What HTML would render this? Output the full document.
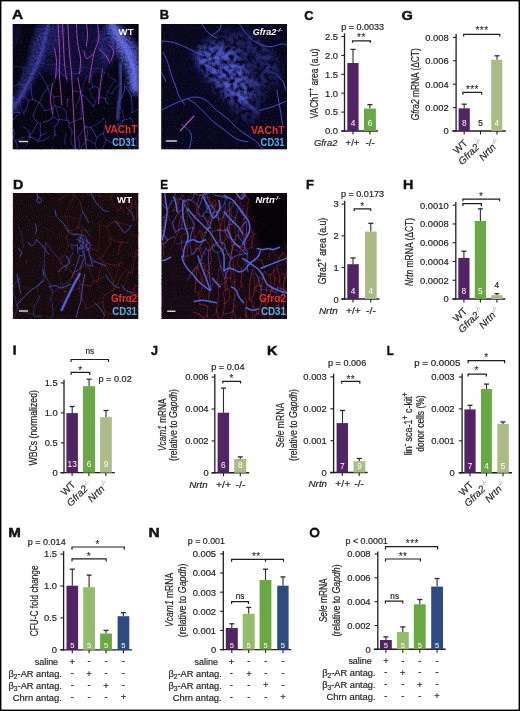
<!DOCTYPE html>
<html><head><meta charset="utf-8"><style>html,body{margin:0;padding:0;background:#fff;width:520px;height:711px;overflow:hidden;}body{font-family:"Liberation Sans", sans-serif;}</style></head><body>
<svg width="520" height="711" viewBox="0 0 520 711" style="position:absolute;left:0;top:0;will-change:transform" font-family='"Liberation Sans", sans-serif' fill="#1e1e1e">
<rect x="0" y="0" width="520" height="711" fill="#fff"/>
<defs><filter id="b05" x="-20%" y="-20%" width="140%" height="140%"><feGaussianBlur stdDeviation="0.45"/></filter><filter id="b08" x="-20%" y="-20%" width="140%" height="140%"><feGaussianBlur stdDeviation="0.8"/></filter><filter id="b15" x="-20%" y="-20%" width="140%" height="140%"><feGaussianBlur stdDeviation="1.5"/></filter><filter id="b3" x="-50%" y="-50%" width="200%" height="200%"><feGaussianBlur stdDeviation="3"/></filter><filter id="nzB" x="0" y="0" width="100%" height="100%" color-interpolation-filters="sRGB"><feTurbulence type="fractalNoise" baseFrequency="0.9" numOctaves="2" seed="7"/><feColorMatrix type="matrix" values="0 0 0 0 0.15  0 0 0 0 0.15  0 0 0 0 0.45  2.4 0 0 0 -1.38"/></filter><filter id="nzR" x="0" y="0" width="100%" height="100%" color-interpolation-filters="sRGB"><feTurbulence type="fractalNoise" baseFrequency="0.9" numOctaves="2" seed="9"/><feColorMatrix type="matrix" values="0 0 0 0 0.3  0 0 0 0 0.08  0 0 0 0 0.14  3 0 0 0 -1.6"/></filter><filter id="tex" x="-20%" y="-20%" width="140%" height="140%" color-interpolation-filters="sRGB"><feGaussianBlur in="SourceGraphic" stdDeviation="2.6" result="bl"/><feTurbulence type="fractalNoise" baseFrequency="0.45" numOctaves="2" seed="4" result="t"/><feColorMatrix in="t" type="matrix" values="0 0 0 0 0  0 0 0 0 0  0 0 0 0 0  1.4 0 0 0 0.05" result="ta"/><feComposite in="bl" in2="ta" operator="in"/></filter><filter id="mott" x="-30%" y="-30%" width="160%" height="160%" color-interpolation-filters="sRGB"><feGaussianBlur in="SourceGraphic" stdDeviation="3.8" result="bl"/><feTurbulence type="fractalNoise" baseFrequency="0.22" numOctaves="3" seed="3" result="t"/><feColorMatrix in="t" type="matrix" values="0 0 0 0 0  0 0 0 0 0  0 0 0 0 0  3.2 0 0 0 -1.0" result="ta"/><feComposite in="bl" in2="ta" operator="in"/></filter></defs>
<clipPath id="cA"><rect x="12.5" y="23.9" width="126.3" height="125.7"/></clipPath>
<g clip-path="url(#cA)"><rect x="12.5" y="23.9" width="126.3" height="125.7" fill="#05040f"/>
<g transform="translate(12.5,23.9)"><rect width="127" height="127" filter="url(#nzB)"/><g filter="url(#tex)" opacity="0.9"><ellipse cx="62" cy="26" rx="44" ry="30" fill="#2a2a90" opacity="0.45"/><path d="M25,0 L41,0 L37,16 L33,32 L26,48 L18,64 L11,76 L0,92 L0,76 L5,64 L11,50 L16,34 L21,16Z" fill="#4444bc" opacity="0.7"/><ellipse cx="3" cy="10" rx="6" ry="11" fill="#2a2a80" opacity="0.35"/><path d="M41,0 L52,0 L50,12 L44,26 L37,30Z" fill="#2c2c80"/><path d="M92,0 L107,0 L116,12 L124,22 L127,28 L127,72 L121,70 L116,64 L114,48 L108,35 L101,22 L96,12Z" fill="#5e68e6"/><path d="M84,8 L92,8 L98,30 L96,40 L88,36Z" fill="#30309a"/></g><g fill="none" stroke="#6464e8" stroke-width="2.4" stroke-linecap="round" stroke-linejoin="round" opacity="0.55" filter="url(#b08)"><path d="M36,0 C35.33,2.67 33.33,10.67 32,16 C30.67,21.33 29.83,26.67 28,32 C26.17,37.33 23.5,42.67 21,48 C18.5,53.33 15.5,59.33 13,64 C10.5,68.67 8.17,72.33 6,76 C3.83,79.67 1,84.33 0,86"/></g><g fill="none" stroke="#7078f4" stroke-width="6" stroke-linecap="round" stroke-linejoin="round" opacity="0.7" filter="url(#b15)"><path d="M99,0 C100.33,2.33 104.33,9.33 107,14 C109.67,18.67 112.67,23 115,28 C117.33,33 119.67,38 121,44 C122.33,50 122.67,60.67 123,64"/></g><g fill="none" stroke="#5a64e0" stroke-width="2.6" stroke-linecap="round" stroke-linejoin="round" opacity="0.75" filter="url(#b08)"><path d="M108,40 C108.08,43.67 108.75,55.33 108.5,62 C108.25,68.67 107.08,74.5 106.5,80 C105.92,85.5 105.25,92.5 105,95"/></g><g fill="none" stroke="#4848cc" stroke-width="0.8" stroke-linecap="round"><path d="M103.28,119.91 Q97.68,119.51 93.68,115.57" opacity="0.89"/><path d="M84.68,130.01 Q91.61,124.31 93.68,115.57" opacity="0.83"/><path d="M84.68,130.01 Q84.58,124.86 82.59,120.12" opacity="0.59"/><path d="M90.78,109.5 Q91.14,113.06 93.68,115.57" opacity="0.61"/><path d="M90.78,109.5 Q86.57,110.39 83.97,113.83" opacity="0.8"/><path d="M83.97,113.83 Q83.67,117.06 82.59,120.12" opacity="0.61"/><path d="M1.96,21.72 Q1.2,18.73 4.28,18.72" opacity="0.24"/><path d="M-4.63,42.61 Q-2.33,31.85 1.96,21.72" opacity="0.25"/><path d="M0.74,114.31 Q1.74,115.83 3.01,117.13" opacity="0.72"/><path d="M3.01,117.13 Q5.24,121.28 5.12,126" opacity="0.89"/><path d="M8.17,128.08 Q8.13,124.87 5.12,126" opacity="0.85"/><path d="M8.17,128.08 Q15.07,121.92 17.57,113.01" opacity="0.52"/><path d="M17.63,113.08 Q16.23,114.17 17.57,113.01" opacity="0.76"/><path d="M3.01,117.13 Q9.47,112.42 17.45,112.7" opacity="0.54"/><path d="M17.57,113.01 Q19.3,112.17 17.45,112.7" opacity="0.57"/><path d="M82.59,120.12 Q79.11,116.4 74.08,115.64" opacity="0.77"/><path d="M74.08,115.64 Q71.29,121.42 66.71,125.91" opacity="0.67"/><path d="M98.38,14.71 Q89.16,14.95 80.19,17.09" opacity="0.29"/><path d="M68.88,42.07 Q76.5,45.73 84.88,44.68" opacity="0.31"/><path d="M86.1,43.73 Q84.85,43.39 84.88,44.68" opacity="0.53"/><path d="M90.78,109.5 Q93.18,103.36 93.16,96.77" opacity="0.68"/><path d="M83.97,113.83 Q82.05,108.17 78.27,103.55" opacity="0.89"/><path d="M91.48,94.61 Q90.78,96.56 91.29,94.55" opacity="0.69"/><path d="M91.29,94.55 Q85.89,100.65 78.27,103.55" opacity="0.58"/><path d="M74.08,115.64 Q76.75,109.18 73.58,102.96" opacity="0.75"/><path d="M78.27,103.55 Q75.87,103.65 73.58,102.96" opacity="0.77"/><path d="M40.18,124.64 Q40.77,123.63 39.67,123.23" opacity="0.88"/><path d="M115.7,130.5 Q118.79,124.76 124.64,121.86" opacity="0.63"/><path d="M103.28,119.91 Q103.58,118.85 104.05,117.85" opacity="0.59"/><path d="M104.05,117.85 Q105.35,109.14 105.36,100.32" opacity="0.53"/><path d="M100.53,17.38 Q96.22,32.86 91.86,48.32" opacity="0.21"/><path d="M92.13,48.6 Q90.91,49.51 91.86,48.32" opacity="0.42"/><path d="M103.13,56.47 Q97.38,61.02 95.43,68.08" opacity="0.58"/><path d="M103.13,56.47 Q96.87,54.69 94.21,48.74" opacity="0.59"/><path d="M92.13,48.6 Q88.72,53.91 89.55,60.18" opacity="0.46"/><path d="M72.85,102.29 Q71.84,104.12 73.58,102.96" opacity="0.67"/><path d="M131.94,65.5 Q129.07,65.51 131.85,64.82" opacity="0.82"/><path d="M0.74,114.31 Q3.24,110.45 1.21,106.32" opacity="0.74"/><path d="M17.45,112.7 Q16.84,112.26 17.35,111.72" opacity="0.67"/><path d="M17.35,111.72 Q16.56,105.56 10.93,102.95" opacity="0.88"/><path d="M-4.17,89.69 Q-0.95,92.65 -0.32,96.98" opacity="0.78"/><path d="M-4.17,89.69 Q-7.13,90.7 -5.32,88.14" opacity="0.81"/><path d="M1.21,106.32 Q1.06,104.19 -0.87,103.27" opacity="0.59"/><path d="M17.63,113.08 Q21.77,114.29 25.38,116.66" opacity="0.84"/><path d="M17.35,111.72 Q22.16,105.88 24.98,98.87" opacity="0.78"/><path d="M28.4,99.09 Q26.56,101.04 24.98,98.87" opacity="0.53"/><path d="M28.4,99.09 Q26.85,105.37 28.22,111.7" opacity="0.68"/><path d="M28.22,111.7 Q27.85,114.78 25.38,116.66" opacity="0.83"/><path d="M25.38,116.66 Q26.3,116.83 26.19,117.76" opacity="0.85"/><path d="M68.88,42.07 Q70.47,44.95 68.18,47.3" opacity="0.38"/><path d="M84.88,44.68 Q79.68,46.08 78.84,51.4" opacity="0.37"/><path d="M73.93,52.98 Q76.12,51.36 78.84,51.4" opacity="0.38"/><path d="M99.23,69.86 Q102.12,62.96 108.56,59.16" opacity="0.62"/><path d="M105.6,78.79 Q111.68,72.08 112.45,63.05" opacity="0.87"/><path d="M112.45,63.05 Q110.64,61.7 112.1,59.99" opacity="0.77"/><path d="M103.13,56.47 Q105.25,59.01 108.56,59.16" opacity="0.23"/><path d="M95.43,68.08 Q97.24,69.16 99.23,69.86" opacity="0.55"/><path d="M96.4,80.42 Q92.56,78.85 92.91,74.72" opacity="0.89"/><path d="M94.68,68.27 Q94.65,71.73 92.91,74.72" opacity="0.53"/><path d="M112.45,63.05 Q117.08,66.66 118.57,72.34" opacity="0.7"/><path d="M118.57,72.34 Q122.63,69.73 127.01,71.75" opacity="0.56"/><path d="M105.6,78.79 Q111.12,86.11 111.58,95.27" opacity="0.52"/><path d="M119.58,88.78 Q120.31,80.48 118.57,72.34" opacity="0.79"/><path d="M117.65,93.78 Q115.23,97.02 111.58,95.27" opacity="0.67"/><path d="M105.36,100.32 Q109.66,100.77 110.53,96.53" opacity="0.89"/><path d="M110.53,96.53 Q113.18,97.69 111.58,95.27" opacity="0.52"/><path d="M124.64,121.86 Q124.81,118.07 123.23,114.62" opacity="0.81"/><path d="M125.89,110.13 Q124.16,112.14 123.23,114.62" opacity="0.69"/><path d="M68.95,95.08 Q69.19,94.34 68.8,95.01" opacity="0.72"/><path d="M80.71,82.6 Q76.46,75.74 69.83,71.13" opacity="0.73"/><path d="M68.8,95.01 Q67.72,83 69.83,71.13" opacity="0.63"/><path d="M68.18,47.3 Q65.57,47.46 64.53,49.86" opacity="0.47"/><path d="M70.17,66.38 Q70.15,59.14 73.93,52.98" opacity="0.51"/><path d="M70.17,66.38 Q69.56,67.61 68.33,68.23" opacity="0.72"/><path d="M68.33,68.23 Q68.23,68.75 68.22,68.22" opacity="0.59"/><path d="M50.87,21.01 Q45.53,29.21 45.8,38.99" opacity="0.25"/><path d="M28.17,39.26 Q36.05,42.29 44.23,40.24" opacity="0.36"/><path d="M53.27,16.62 Q53.35,19.51 50.87,21.01" opacity="0.29"/><path d="M45.8,38.99 Q51.01,40.57 56.03,42.68" opacity="0.42"/><path d="M64.53,49.86 Q60.69,49.08 56.93,50.19" opacity="0.54"/><path d="M66.7,125.9 Q68.29,119.38 65.5,113.28" opacity="0.75"/><path d="M66.7,125.9 Q61.83,125.14 59.36,120.86" opacity="0.71"/><path d="M59.36,120.86 Q56.81,114.83 59.51,108.86" opacity="0.57"/><path d="M66.71,125.91 Q64.31,127.39 66.7,125.9" opacity="0.65"/><path d="M72.85,102.29 Q69.75,108.17 65.5,113.28" opacity="0.68"/><path d="M-4.63,42.61 Q3.61,41.81 11.67,43.64" opacity="0.45"/><path d="M21.33,17.6 Q24.89,27.91 24.99,38.82" opacity="0.23"/><path d="M11.67,43.64 Q17.74,39.58 24.99,38.82" opacity="0.32"/><path d="M28.17,39.26 Q26.56,37.86 25.55,39.74" opacity="0.35"/><path d="M24.99,38.82 Q24.62,39.67 25.55,39.74" opacity="0.43"/><path d="M26.19,117.76 Q32.35,116.63 37.22,112.71" opacity="0.73"/><path d="M28.22,111.7 Q31.19,110.28 34.18,108.89" opacity="0.65"/><path d="M127.01,71.75 Q131.64,73.89 131.04,78.95" opacity="0.88"/><path d="M119.58,88.78 Q124.25,86.47 128.15,83.01" opacity="0.59"/><path d="M80.45,62.82 Q78.69,64.14 77.04,65.59" opacity="0.88"/><path d="M80.45,62.82 Q83.84,61.56 86.11,64.37" opacity="0.74"/><path d="M77.04,65.59 Q78.22,72.37 83.47,76.82" opacity="0.5"/><path d="M86.11,64.37 Q86,69.23 85.61,74.08" opacity="0.68"/><path d="M78.84,51.4 Q77.58,57.4 80.45,62.82" opacity="0.63"/><path d="M81.15,82.53 Q82.66,79.82 83.47,76.82" opacity="0.83"/><path d="M69.83,71.13 Q66.97,70.77 68.33,68.23" opacity="0.82"/><path d="M92.91,74.72 Q89.44,72.32 85.61,74.08" opacity="0.68"/><path d="M119.35,95.5 Q119.29,99.28 122.37,101.47" opacity="0.66"/><path d="M117.65,93.78 Q117.74,95.4 119.35,95.5" opacity="0.66"/><path d="M114.9,116.4 Q113.64,111.72 113.63,106.88" opacity="0.55"/><path d="M114.9,116.4 Q114.72,119.71 117.59,118.05" opacity="0.62"/><path d="M113.63,106.88 Q118.59,110.18 121.07,115.6" opacity="0.55"/><path d="M117.59,118.05 Q120.25,118.14 121.07,115.6" opacity="0.82"/><path d="M115.7,130.5 Q115.27,124.07 117.59,118.05" opacity="0.73"/><path d="M123.23,114.62 Q121.79,114.31 121.07,115.6" opacity="0.69"/><path d="M63.42,82.01 Q67.97,75.9 68.01,68.27" opacity="0.63"/><path d="M68.01,68.27 Q64.1,67.09 60.02,67.11" opacity="0.77"/><path d="M44.23,40.24 Q46.36,42.7 45.66,45.87" opacity="0.35"/><path d="M54.98,54.12 Q49.12,51.35 45.66,45.87" opacity="0.61"/><path d="M53.43,86.59 Q53.99,91.5 54.6,96.4" opacity="0.73"/><path d="M67.62,94.83 Q62.51,97.74 56.82,99.23" opacity="0.68"/><path d="M56.82,99.23 Q57.16,96.68 54.6,96.4" opacity="0.8"/><path d="M55.38,75.84 Q56.95,76.96 55.7,75.49" opacity="0.79"/><path d="M55.38,75.84 Q53.77,79.33 54.78,83.03" opacity="0.83"/><path d="M63.42,82.01 Q64.53,83.15 63.55,84.4" opacity="0.66"/><path d="M68.8,95.01 Q68.56,92.58 67.62,94.83" opacity="0.68"/><path d="M68.22,68.22 Q68.08,68.11 68.01,68.27" opacity="0.74"/><path d="M24.98,98.87 Q22,95.66 20.64,91.49" opacity="0.76"/><path d="M-0.32,96.98 Q3.34,92.46 8.09,89.11" opacity="0.76"/><path d="M11.9,90.55 Q12.18,89.65 11.25,89.5" opacity="0.56"/><path d="M-4.17,89.69 Q1.45,87.76 7.35,88.5" opacity="0.86"/><path d="M-5.32,88.14 Q-0.54,86.35 0.87,81.44" opacity="0.59"/><path d="M7.35,88.5 Q3.03,85.96 0.87,81.44" opacity="0.67"/><path d="M55.38,75.84 Q54.25,76.31 53.48,75.36" opacity="0.54"/><path d="M53.43,86.59 Q50.29,84.19 46.52,82.98" opacity="0.61"/><path d="M47.2,95.51 Q50.86,96.31 54.6,96.4" opacity="0.74"/><path d="M47.2,95.51 Q44.73,88.9 43.06,82.04" opacity="0.56"/><path d="M46.52,82.98 Q44.21,84.63 43.06,82.04" opacity="0.71"/><path d="M32.29,86.61 Q36.67,86.19 40.58,84.18" opacity="0.7"/><path d="M32.1,97.41 Q33.59,96.24 35.03,97.47" opacity="0.59"/><path d="M35.03,97.47 Q38.44,96.09 39.96,92.74" opacity="0.87"/><path d="M39.96,92.74 Q40.71,88.49 40.58,84.18" opacity="0.66"/><path d="M46.26,96 Q45.96,100.81 41.8,103.23" opacity="0.81"/><path d="M46.26,96 Q42.85,94.87 39.96,92.74" opacity="0.8"/><path d="M42.61,81.65 Q39.7,81.39 40.58,84.18" opacity="0.7"/><path d="M43.73,111.63 Q43.33,109.61 41.98,111.16" opacity="0.87"/><path d="M41.98,111.16 Q43.31,109.75 42.46,108.01" opacity="0.86"/><path d="M56.62,100.34 Q56.53,101.73 56.57,103.12" opacity="0.67"/><path d="M52.4,119.05 Q51.96,113.98 53.72,109.2" opacity="0.63"/><path d="M52.65,120.7 Q52.27,119.91 52.4,119.05" opacity="0.63"/><path d="M39.67,114.2 Q42.87,114.24 41.98,111.16" opacity="0.5"/><path d="M41.8,103.23 Q42.83,105.52 42.46,108.01" opacity="0.71"/><path d="M31.23,98.37 Q33.04,99.15 32.1,97.41" opacity="0.89"/><path d="M56.82,99.23 Q57.35,99.9 56.62,100.34" opacity="0.75"/><path d="M59.51,108.86 Q60.17,104.9 56.57,103.12" opacity="0.87"/><path d="M54.98,54.12 Q55.59,55.74 54.33,56.91" opacity="0.71"/><path d="M45.66,45.87 Q43.22,52.15 41.83,58.75" opacity="0.65"/><path d="M55,59.05 Q55.12,57.83 54.33,56.91" opacity="0.55"/><path d="M42.61,81.65 Q39.38,77.62 41.86,73.08" opacity="0.55"/><path d="M46.84,72.29 Q44.28,72.21 41.86,73.08" opacity="0.66"/><path d="M27.16,78.53 Q29.19,70.22 35.41,64.34" opacity="0.76"/><path d="M26.45,78.76 Q23.52,76.34 19.88,75.3" opacity="0.74"/><path d="M19.88,75.3 Q18.59,67.69 18.21,59.99" opacity="0.82"/><path d="M26.49,48.25 Q30.88,55.32 35.26,62.4" opacity="0.71"/><path d="M35.26,62.4 Q32.36,63.6 35.41,64.34" opacity="0.82"/><path d="M32.29,86.61 Q29.37,82.8 27.16,78.53" opacity="0.78"/><path d="M41.86,73.08 Q36.27,70.45 35.41,64.34" opacity="0.81"/><path d="M20.64,91.49 Q22.77,84.78 26.45,78.76" opacity="0.72"/><path d="M11.25,89.5 Q15.76,84.08 15.93,77.03" opacity="0.83"/><path d="M15.93,77.03 Q18.05,76.5 19.88,75.3" opacity="0.61"/><path d="M41.83,58.75 Q39.2,61.75 35.26,62.4" opacity="0.49"/><path d="M6.84,74.01 Q9.81,75.2 11.16,72.3" opacity="0.72"/><path d="M11.16,72.3 Q14,67.63 12.86,62.29" opacity="0.53"/><path d="M-5.08,62.2 Q1.33,63.93 6.69,60.01" opacity="0.63"/><path d="M6.69,60.01 Q10.13,60.2 12.86,62.29" opacity="0.58"/><path d="M10.95,89.36 Q6.73,82.27 6.84,74.01" opacity="0.52"/><path d="M0.87,81.44 Q2.91,76.69 0.73,72" opacity="0.9"/><path d="M15.93,77.03 Q14.59,73.62 11.16,72.3" opacity="0.69"/><path d="M11.67,43.64 Q11.42,52.51 6.69,60.01" opacity="0.42"/></g><g fill="none" stroke="#d24cc8" stroke-width="0.95" stroke-linecap="round" stroke-linejoin="round" opacity="0.85" filter="url(#b05)"><path d="M45.6,0 C45.72,2.47 46.02,9.47 46.3,14.8 C46.58,20.13 47.22,26.25 47.3,32 C47.38,37.75 46.68,43.97 46.8,49.3 C46.92,54.63 47.58,58.72 48,64 C48.42,69.28 49.08,78.17 49.3,81"/><path d="M55.4,0 C55.62,4.1 56.1,16.38 56.7,24.6 C57.3,32.82 58.4,41.07 59,49.3 C59.6,57.53 59.87,65.8 60.3,74 C60.73,82.2 61.18,89.83 61.6,98.5 C62.02,107.17 62.6,121.42 62.8,126"/><path d="M65.3,54 C65.92,57.33 67.98,66.58 69,74 C70.02,81.42 70.57,89.83 71.4,98.5 C72.23,107.17 73.57,121.42 74,126"/><path d="M85,0 C85.2,2.47 86.82,9.87 86.2,14.8 C85.58,19.73 82.53,24.68 81.3,29.6 C80.07,34.52 79.62,39.4 78.8,44.3 C77.98,49.2 76.8,56.55 76.4,59"/><path d="M86.2,24.6 C87.43,25.83 91.75,29.53 93.6,32 C95.45,34.47 96.68,38.17 97.3,39.4"/><path d="M81.3,29.6 C80.07,30.42 75.55,34.93 73.9,34.5 C72.25,34.07 71.82,28.25 71.4,27"/><path d="M74,0 C74.17,1.67 75,6.33 75,10 C75,13.67 74.17,20 74,22"/><path d="M96,20 C96.83,21.17 100.58,24.17 101,27 C101.42,29.83 98.92,35.33 98.5,37"/><path d="M42,25 C42.33,27 43.83,32.17 44,37 C44.17,41.83 43.17,51.17 43,54"/><path d="M50,0 C50.17,3.33 50.67,13.33 51,20 C51.33,26.67 51.5,34.17 52,40 C52.5,45.83 53.67,52.5 54,55"/><path d="M64,0 C64.17,3 64.33,12.17 65,18 C65.67,23.83 67.67,29.67 68,35 C68.33,40.33 67.17,47.5 67,50"/><path d="M90,45 C89.67,47.5 88.67,54.17 88,60 C87.33,65.83 86.33,76.67 86,80"/><path d="M40,60 C39.67,62.5 38,70 38,75 C38,80 39.67,87.5 40,90"/></g><line x1="6.3" y1="117.6" x2="15.5" y2="117.6" stroke="#cfcfcf" stroke-width="1.4"/><text x="106.1" y="11.4" font-size="9.6" font-weight="bold" fill="#fff" textLength="14.9" lengthAdjust="spacingAndGlyphs">WT</text><text x="92.2" y="109.2" font-size="10" font-weight="bold" fill="#e2312f" textLength="32.6" lengthAdjust="spacingAndGlyphs">VAChT</text><text x="99.7" y="121.7" font-size="10" font-weight="bold" fill="#5aaee6" textLength="23.5" lengthAdjust="spacingAndGlyphs">CD31</text></g></g>
<clipPath id="cB"><rect x="161.1" y="24" width="125.9" height="125.6"/></clipPath>
<g clip-path="url(#cB)"><rect x="161.1" y="24" width="125.9" height="125.6" fill="#08071c"/>
<g transform="translate(161.1,24)"><rect width="127" height="127" filter="url(#nzB)"/><g filter="url(#mott)"><path d="M32,26 C35,22.17 41.67,17 47,14 C52.33,11 57.83,9 64,8 C70.17,7 78,6.67 84,8 C90,9.33 95.83,12.33 100,16 C104.17,19.67 107.17,24.67 109,30 C110.83,35.33 111.33,42 111,48 C110.67,54 108.67,61 107,66 C105.33,71 102.83,73.67 101,78 C99.17,82.33 98.33,88.33 96,92 C93.67,95.67 90.5,100 87,100 C83.5,100 78.83,95.67 75,92 C71.17,88.33 68.17,82.33 64,78 C59.83,73.67 54.33,70.83 50,66 C45.67,61.17 41.5,53.83 38,49 C34.5,44.17 30,40.83 29,37 C28,33.17 29,29.83 32,26Z" fill="#3a42b4" opacity="0.45"/><path d="M100,20 C101.33,18 108.67,23.83 112,28 C115.33,32.17 119,39.33 120,45 C121,50.67 120,59.83 118,62 C116,64.17 110.33,61.67 108,58 C105.67,54.33 105.33,46.33 104,40 C102.67,33.67 98.67,22 100,20Z" fill="#4048c0" opacity="0.35"/><path d="M38,23.5 C41.12,20.6 51.87,19.15 58.1,20.6 C64.33,22.05 70.58,26.9 75.4,32.2 C80.22,37.5 84.58,45.68 87,52.4 C89.42,59.12 91.35,67.7 89.9,72.5 C88.45,77.3 82.63,81.68 78.3,81.2 C73.97,80.72 68.7,74.4 63.9,69.6 C59.1,64.8 53.58,57.67 49.5,52.4 C45.42,47.13 41.32,42.82 39.4,38 C37.48,33.18 34.88,26.4 38,23.5Z" fill="#5a62e0" opacity="0.7"/></g><g fill="none" stroke="#6870ec" stroke-width="2" stroke-linecap="round" stroke-linejoin="round" opacity="0.55" filter="url(#b08)"><path d="M36.35,33.92 C39.17,36.35 47.65,43.21 53.31,48.46 C58.96,53.71 65.02,60.58 70.27,65.42 C75.52,70.27 80.37,73.5 84.81,77.54 C89.25,81.58 94.9,87.63 96.92,89.65"/><path d="M38.77,38.77 C42.4,37.56 53.71,33.52 60.58,31.5 C67.44,29.48 76.73,27.46 79.96,26.65"/><path d="M55.73,21.81 C57.75,24.23 63.81,31.5 67.85,36.35 C71.88,41.19 75.12,46.85 79.96,50.88 C84.81,54.92 94.1,58.96 96.92,60.58"/></g><g fill="none" stroke="#5058dc" stroke-width="1" stroke-linecap="round" stroke-linejoin="round" opacity="0.9" filter="url(#b05)"><path d="M0.4,17 C2.33,17.23 8.15,17.45 12,18.4 C15.85,19.35 19.67,21.02 23.5,22.7 C27.33,24.38 31.15,26.82 35,28.5 C38.85,30.18 44.67,32.08 46.6,32.8"/><path d="M1.9,28.5 C2.62,29.93 4.77,33.25 6.2,37.1 C7.63,40.95 9.05,47.27 10.5,51.6 C11.95,55.93 13.7,59.73 14.9,63.1 C16.1,66.47 16.27,68.92 17.7,71.8 C19.13,74.68 22.53,78.97 23.5,80.4"/><path d="M0,86.2 C2,85.23 7.6,82.33 12,80.4 C16.4,78.47 22.32,75.8 26.4,74.6 C30.48,73.4 33.13,72.72 36.5,73.2 C39.87,73.68 43.48,75.33 46.6,77.5 C49.72,79.67 51.83,83.32 55.2,86.2 C58.57,89.08 63.43,91.92 66.8,94.8 C70.17,97.68 72.03,100.62 75.4,103.5 C78.77,106.38 83.63,109.7 87,112.1 C90.37,114.5 93.1,115.58 95.6,117.9 C98.1,120.22 100.93,124.65 102,126"/><path d="M26.4,74.6 C27.83,75.57 32.12,77.98 35,80.4 C37.88,82.82 40.8,86.22 43.7,89.1 C46.6,91.98 49.03,94.82 52.4,97.7 C55.77,100.58 60.07,103.52 63.9,106.4 C67.73,109.28 71.55,113.08 75.4,115 C79.25,116.92 85.07,117.42 87,117.9"/><path d="M40.8,0 C41.77,1.38 44.2,5.95 46.6,8.3 C49,10.65 53.77,13.13 55.2,14.1"/><path d="M78.3,0 C79.27,1.38 81.7,5.47 84.1,8.3 C86.5,11.13 88.85,14.6 92.7,17 C96.55,19.4 102.38,22.23 107.2,22.7 C112.02,23.17 118.47,19.92 121.6,19.8 C124.73,19.68 125.27,21.63 126,22"/><path d="M112.9,48.7 C114.35,50.13 119.67,54.42 121.6,57.3 C123.53,60.18 124.02,64.55 124.5,66"/><path d="M98.5,86.2 C100.42,85.72 105.67,84.75 110,83.3 C114.33,81.85 122.08,78.47 124.5,77.5"/><path d="M115.8,66 C116.28,68.88 117.73,77.53 118.7,83.3 C119.67,89.07 121.12,97.72 121.6,100.6"/><path d="M0.4,48.7 L4.8,57.3"/><path d="M20,100 C21.67,101.67 28.67,105.67 30,110 C31.33,114.33 28.33,123.33 28,126"/><path d="M60,0 C59.67,1 59.67,4 58,6 C56.33,8 51.33,11 50,12"/></g><g fill="none" stroke="#c050c8" stroke-width="1.3" stroke-linecap="round" stroke-linejoin="round" opacity="1"><path d="M19.38,106.61 L32.71,92.08"/></g><line x1="4.8" y1="117" x2="15.8" y2="117" stroke="#cfcfcf" stroke-width="1.4"/><text x="91.7" y="10.9" font-size="9.4" font-weight="bold" font-style="italic" fill="#fff" textLength="23.4" lengthAdjust="spacingAndGlyphs">Gfra2</text><text x="115.2" y="7.6" font-size="5.6" font-weight="bold" font-style="italic" fill="#fff" textLength="6.2" lengthAdjust="spacingAndGlyphs">-/-</text><text x="89.8" y="109.5" font-size="10" font-weight="bold" fill="#e2312f" textLength="33.6" lengthAdjust="spacingAndGlyphs">VAChT</text><text x="99.5" y="122.4" font-size="10" font-weight="bold" fill="#5aaee6" textLength="24" lengthAdjust="spacingAndGlyphs">CD31</text></g></g>
<clipPath id="cD"><rect x="12.7" y="193" width="125.8" height="126"/></clipPath>
<g clip-path="url(#cD)"><rect x="12.7" y="193" width="125.8" height="126" fill="#140b0f"/>
<g transform="translate(12.7,193)"><rect width="127" height="127" filter="url(#nzR)"/><g fill="none" stroke="#b82a32" stroke-width="0.7" stroke-linecap="round"><path d="M70.16,17.93 Q67.89,13.49 67.31,8.54" opacity="0.61"/><path d="M88.63,3.52 Q82.04,1.72 75.22,1.72" opacity="0.4"/><path d="M75.27,1.52 Q73.7,1.19 75.22,1.72" opacity="0.64"/><path d="M33.86,105.43 Q41.83,105.86 49.58,107.74" opacity="0.18"/><path d="M49.58,107.74 Q49.56,109.19 50.59,110.21" opacity="0.32"/><path d="M44.81,7.7 Q53.13,3.41 59.64,-3.32" opacity="0.5"/><path d="M67.31,8.54 Q64.54,5.41 61.64,2.41" opacity="0.48"/><path d="M59.64,-3.32 Q59.51,-0.06 61.64,2.41" opacity="0.53"/><path d="M61.64,2.41 Q56.88,11.72 51.95,20.95" opacity="0.37"/><path d="M130.66,45.19 Q127.36,50.79 125.14,56.91" opacity="0.5"/><path d="M131.13,81.54 Q129.43,83.35 128.19,81.19" opacity="0.48"/><path d="M128.7,127.15 Q128.76,122.19 125.3,118.64" opacity="0.47"/><path d="M52.61,22.83 Q55.06,28.7 55.34,35.06" opacity="0.36"/><path d="M52.61,22.83 Q58,22.96 62.69,25.64" opacity="0.4"/><path d="M53.34,44.58 Q56.38,41.86 55.22,37.95" opacity="0.57"/><path d="M53.34,44.58 Q42.4,39.99 31.58,35.14" opacity="0.26"/><path d="M55.22,37.95 Q56.15,36.54 55.34,35.06" opacity="0.52"/><path d="M68.38,21.35 Q67.68,27.78 65.65,33.92" opacity="0.47"/><path d="M78.16,37.53 Q73.57,38.64 68.96,37.59" opacity="0.45"/><path d="M68.96,37.59 Q66.05,36.88 65.65,33.92" opacity="0.57"/><path d="M55.22,37.95 Q60.92,38.4 65.26,34.67" opacity="0.43"/><path d="M65.65,33.92 Q63.35,33.18 65.26,34.67" opacity="0.55"/><path d="M67.62,48.43 Q70.43,46.85 72.02,49.65" opacity="0.59"/><path d="M72.02,49.65 Q72.58,52.05 73.33,54.39" opacity="0.52"/><path d="M70.2,72.99 Q70.27,72.89 70.38,72.88" opacity="0.38"/><path d="M68.96,37.59 Q69.25,43.13 67.62,48.43" opacity="0.43"/><path d="M87.26,32.05 Q86.34,30.8 85.2,29.76" opacity="0.51"/><path d="M87.26,32.05 Q87.92,45.17 84.67,57.9" opacity="0.38"/><path d="M84.67,57.9 Q79.15,55.68 73.33,54.39" opacity="0.52"/><path d="M86.53,64.86 Q81.25,69.6 75.87,74.24" opacity="0.36"/><path d="M75.87,74.24 Q73.28,72.95 70.38,72.88" opacity="0.52"/><path d="M53.34,44.58 Q55.73,48.7 56.3,53.43" opacity="0.53"/><path d="M48.08,70.02 Q50.33,61.05 56.26,53.94" opacity="0.32"/><path d="M105.31,61.56 Q105.98,55.23 108.47,49.37" opacity="0.58"/><path d="M108.47,49.37 Q102.49,48.67 97.33,45.56" opacity="0.48"/><path d="M97.33,45.56 Q99.66,48.03 97.47,50.61" opacity="0.38"/><path d="M87.26,32.05 Q90.65,32.44 93.66,34.03" opacity="0.42"/><path d="M93.66,34.03 Q96.39,39.51 97.33,45.56" opacity="0.39"/><path d="M86.53,64.86 Q86.37,67.12 88.37,66.06" opacity="0.58"/><path d="M88.37,66.06 Q93.24,58.52 97.47,50.61" opacity="0.55"/><path d="M133.11,99.87 Q128.58,95.24 123.07,91.82" opacity="0.49"/><path d="M133.11,99.87 Q133.12,90.6 131.13,81.54" opacity="0.64"/><path d="M128.19,81.19 Q126.47,82.9 124.14,83.61" opacity="0.44"/><path d="M108.33,69.94 Q109.26,70.98 110.48,70.28" opacity="0.41"/><path d="M116.01,49.03 Q112.46,51.25 109.11,48.75" opacity="0.58"/><path d="M109.11,48.75 Q107.22,47.45 108.47,49.37" opacity="0.46"/><path d="M130.66,45.19 Q123.83,43.93 117.51,41.05" opacity="0.48"/><path d="M125.14,56.91 Q123.09,56.41 123.02,58.52" opacity="0.36"/><path d="M126.53,69.03 Q126.95,63.64 123.23,59.71" opacity="0.57"/><path d="M119.43,80.39 Q121.14,70.02 123.23,59.71" opacity="0.45"/><path d="M123.02,58.52 Q121.81,59.35 123.23,59.71" opacity="0.48"/><path d="M108.33,69.94 Q105.61,69.45 106.4,72.09" opacity="0.63"/><path d="M106.4,72.09 Q99.04,73.12 92.43,69.73" opacity="0.6"/><path d="M97.79,4.27 Q101.61,1.07 102.03,-3.89" opacity="0.53"/><path d="M123.88,27.49 Q124.43,17.18 122.48,7.03" opacity="0.52"/><path d="M122.09,115.53 Q125.6,108.37 131.17,102.67" opacity="0.43"/><path d="M122.09,115.53 Q122.29,117.61 124.1,116.58" opacity="0.64"/><path d="M124.1,116.58 Q126.62,114.12 130,115.12" opacity="0.54"/><path d="M133.63,101.55 Q133.35,104.22 131.17,102.67" opacity="0.6"/><path d="M133.11,99.87 Q134.81,100.27 133.63,101.55" opacity="0.57"/><path d="M123.07,91.82 Q121.11,94.99 120.9,98.71" opacity="0.59"/><path d="M120.9,98.71 Q125.49,102.09 131.17,102.67" opacity="0.61"/><path d="M73.48,116.56 Q71.8,116.27 73.21,115.31" opacity="0.51"/><path d="M68.17,105.67 Q72.78,109.39 73.21,115.31" opacity="0.47"/><path d="M60.77,80.58 Q56.34,89.56 51.7,98.44" opacity="0.44"/><path d="M60.77,80.58 Q63.5,83.04 66.31,80.68" opacity="0.56"/><path d="M66.31,80.68 Q65.96,86.27 67.53,91.65" opacity="0.6"/><path d="M51.72,98.75 Q53.2,98.52 51.7,98.44" opacity="0.45"/><path d="M51.72,98.75 Q59.44,97.8 66.73,95.1" opacity="0.46"/><path d="M66.73,95.1 Q65.07,92.9 67.53,91.65" opacity="0.51"/><path d="M43.76,72.92 Q47.35,85.8 51.7,98.44" opacity="0.25"/><path d="M48.08,70.02 Q55.04,74.55 60.77,80.58" opacity="0.53"/><path d="M70.2,72.99 Q67.29,76.35 66.31,80.68" opacity="0.63"/><path d="M75.87,74.24 Q78.02,81.42 81.74,87.94" opacity="0.38"/><path d="M81.74,87.94 Q78.86,90.02 77.44,93.27" opacity="0.64"/><path d="M77.44,93.27 Q72.57,91.92 67.53,91.65" opacity="0.6"/><path d="M49.58,107.74 Q52.58,103.7 51.72,98.75" opacity="0.32"/><path d="M68.17,105.67 Q67.67,100.36 66.73,95.1" opacity="0.43"/><path d="M120.9,98.71 Q117.74,99.85 118.04,103.2" opacity="0.55"/><path d="M122.09,115.53 Q120.14,117.34 118.5,115.25" opacity="0.54"/><path d="M118.04,103.2 Q117.19,109.26 118.5,115.25" opacity="0.56"/><path d="M118.5,115.25 Q118.13,118.62 115.3,120.51" opacity="0.47"/><path d="M102.03,-3.89 Q105.67,2.27 110.31,7.72" opacity="0.45"/><path d="M117.11,32.94 Q116.16,33.96 116.77,32.71" opacity="0.54"/><path d="M116.77,32.71 Q111.67,29.8 105.8,30.1" opacity="0.38"/><path d="M93.66,34.03 Q98.12,30.57 103.04,27.8" opacity="0.61"/><path d="M103.04,27.8 Q103.13,30.5 105.8,30.1" opacity="0.48"/><path d="M97.79,4.27 Q100.85,11.51 104.84,18.28" opacity="0.45"/><path d="M102,95.4 Q106.6,84.97 113.88,76.21" opacity="0.52"/><path d="M110.56,95.01 Q113.92,87.44 115.9,79.39" opacity="0.41"/><path d="M113.88,76.21 Q116.74,76.62 115.9,79.39" opacity="0.56"/><path d="M119.43,80.39 Q118.29,77.69 115.9,79.39" opacity="0.5"/><path d="M118.04,103.2 Q114.84,98.61 110.56,95.01" opacity="0.45"/><path d="M81.74,87.94 Q83.1,88.3 84.38,88.89" opacity="0.56"/><path d="M115.16,21.8 Q110.21,19.74 108.01,14.85" opacity="0.4"/><path d="M115.16,21.8 Q118.79,15.1 119.39,7.5" opacity="0.58"/><path d="M119.39,7.5 Q118.77,5.3 117.68,7.32" opacity="0.59"/><path d="M117.68,7.32 Q113.61,6.36 111.19,9.76" opacity="0.64"/><path d="M104.84,18.28 Q107.09,17.18 108.01,14.85" opacity="0.47"/><path d="M110.31,7.72 Q111.32,8.5 111.19,9.76" opacity="0.48"/><path d="M106.4,72.09 Q104.2,80.61 100.8,88.72" opacity="0.39"/><path d="M102,95.4 Q101.21,93.15 100.88,95.51" opacity="0.56"/><path d="M100.8,88.72 Q101.74,90.68 100.64,92.55" opacity="0.58"/><path d="M105.98,113.66 Q102.44,105.47 100.29,96.82" opacity="0.39"/><path d="M105.98,113.66 Q102.81,117.86 98.79,121.26" opacity="0.57"/><path d="M100.29,96.82 Q95.39,98.99 91.62,102.77" opacity="0.44"/><path d="M92.44,118.79 Q90.26,114.19 90.05,109.1" opacity="0.59"/><path d="M92.44,118.79 Q95.58,120.12 98.79,121.26" opacity="0.46"/><path d="M90.05,109.1 Q89.56,105.63 91.62,102.77" opacity="0.37"/><path d="M90.61,125.76 Q91.73,122.33 92.44,118.79" opacity="0.5"/><path d="M73.48,116.56 Q80.93,110.97 90.05,109.1" opacity="0.47"/><path d="M89.83,100.2 Q92.76,100.08 91.62,102.77" opacity="0.46"/><path d="M84.85,88 Q87.06,83.9 91.72,83.97" opacity="0.58"/><path d="M84.85,88 Q87.05,78.39 90.37,69.11" opacity="0.43"/><path d="M90.37,69.11 Q91.18,69.3 91.68,69.96" opacity="0.42"/><path d="M84.38,88.89 Q85.44,88.89 84.85,88" opacity="0.44"/><path d="M88.37,66.06 Q89.64,67.41 90.37,69.11" opacity="0.47"/><path d="M100.8,88.72 Q97.09,79.67 92.07,71.26" opacity="0.53"/></g><g fill="none" stroke="#4c5ad8" stroke-width="1" stroke-linecap="round" stroke-linejoin="round" opacity="0.85" filter="url(#b05)"><path d="M23.9,0 C24.1,0.82 25.1,3.47 25.1,4.9 C25.1,6.33 23.48,7.78 23.9,8.6 C24.32,9.42 26.78,10.2 27.6,9.8 C28.42,9.4 29.22,7.22 28.8,6.2 C28.38,5.18 25.72,4.12 25.1,3.7"/><path d="M42.4,17.2 L43.6,23.4"/><path d="M46.1,25.8 C46.92,26.63 49.57,28.95 51,30.8 C52.43,32.65 53.47,35.27 54.7,36.9 C55.93,38.53 56.97,39.78 58.4,40.6 C59.83,41.42 62.48,41.6 63.3,41.8"/><path d="M22.7,30.8 C22.9,31.82 23.9,35.27 23.9,36.9 C23.9,38.53 22.9,39.98 22.7,40.6"/><path d="M15.3,49.2 C15.92,49.82 17.77,52.9 19,52.9 C20.23,52.9 21.88,50.22 22.7,49.2 C23.52,48.18 23.7,47.2 23.9,46.8"/><path d="M23.9,46.8 C24.72,47.62 27.37,50.07 28.8,51.7 C30.23,53.33 31.27,54.97 32.5,56.6 C33.73,58.23 35.58,60.68 36.2,61.5"/><path d="M5.5,55.4 C6.1,56.02 8.9,57.67 9.1,59.1 C9.3,60.53 7.1,63.18 6.7,64"/><path d="M78.3,0 C78.72,0.82 79.98,3.27 80.8,4.9 C81.62,6.53 82.18,8.37 83.2,9.8 C84.22,11.23 85.67,12.27 86.9,13.5 C88.13,14.73 89.17,16.37 90.6,17.2 C92.03,18.03 94.68,18.28 95.5,18.5"/><path d="M62.3,40.6 C63.12,40.8 65.57,41.38 67.2,41.8 C68.83,42.22 70.87,42.07 72.1,43.1 C73.33,44.13 74.38,46.37 74.6,48 C74.82,49.63 72.98,51.27 73.4,52.9 C73.82,54.53 76.48,56.98 77.1,57.8"/><path d="M66,44.3 C66.62,44.72 68.88,45.57 69.7,46.8 C70.52,48.03 71.1,50.27 70.9,51.7 C70.7,53.13 68.3,54.17 68.5,55.4 C68.7,56.63 71.5,58.48 72.1,59.1"/><path d="M102.9,28.3 C103.72,29.33 106.37,32.65 107.8,34.5 C109.23,36.35 110.27,39 111.5,39.4 C112.73,39.8 113.97,38.13 115.2,36.9 C116.43,35.67 118.28,32.82 118.9,32"/><path d="M114,14.8 C114.82,15.62 117.67,17.65 118.9,19.7 C120.13,21.75 120.98,25.87 121.4,27.1"/><path d="M69.7,18.5 C70.32,19.52 72.38,22.77 73.4,24.6 C74.42,26.43 75.4,28.68 75.8,29.5"/><path d="M53.5,63 C54.1,64.03 57.1,67.57 57.1,69.2 C57.1,70.83 54.93,71.78 53.5,72.8 C52.07,73.82 49.73,74.27 48.5,75.3 C47.27,76.33 46.5,78.38 46.1,79"/><path d="M4.2,81.5 C4.42,82.52 5.08,85.55 5.5,87.6 C5.92,89.65 6.3,91.75 6.7,93.8 C7.1,95.85 7.7,98.88 7.9,99.9"/><path d="M4.2,112.2 C5.02,111.18 7.25,108.15 9.1,106.1 C10.95,104.05 13.23,101.75 15.3,99.9 C17.37,98.05 19.65,96.43 21.5,95 C23.35,93.57 24.77,92.53 26.4,91.3 C28.03,90.07 30.48,88.22 31.3,87.6"/><path d="M36.2,93.8 C37.23,93.58 40.35,92.3 42.4,92.5 C44.45,92.7 46.45,95 48.5,95 C50.55,95 53.05,93.12 54.7,92.5 C56.35,91.88 57.78,91.5 58.4,91.3"/><path d="M30.1,76.5 L31.3,82.7"/><path d="M62.3,79 C63.12,78.38 65.97,76.93 67.2,75.3 C68.43,73.67 68.88,71.25 69.7,69.2 C70.52,67.15 72.05,64.87 72.1,63 C72.15,61.13 70.35,58.83 70,58"/><path d="M72.1,81.5 C71.7,83.55 70.3,89.7 69.7,93.8 C69.1,97.9 69.12,102.62 68.5,106.1 C67.88,109.58 66.83,111.63 66,114.7 C65.17,117.77 63.92,122.87 63.5,124.5"/><path d="M77.1,63 C77.72,63.82 79.17,66.67 80.8,67.9 C82.43,69.13 84.85,69.58 86.9,70.4 C88.95,71.22 92.07,72.4 93.1,72.8"/><path d="M93.1,81.5 C93.72,82.52 95.37,85.77 96.8,87.6 C98.23,89.43 100.07,91.27 101.7,92.5 C103.33,93.73 105.78,94.58 106.6,95"/><path d="M109.1,92.5 C109.92,93.33 112.17,96.27 114,97.5 C115.83,98.73 119.08,99.5 120.1,99.9"/><path d="M82,109.8 C82.82,110.62 85.27,112.65 86.9,114.7 C88.53,116.75 90.98,120.87 91.8,122.1"/><path d="M64,46 C65,46.67 69.67,48.33 70,50 C70.33,51.67 65.67,55.33 66,56 C66.33,56.67 70.33,55 72,54 C73.67,53 75.33,50.67 76,50"/></g><g fill="none" stroke="#5a6aec" stroke-width="2.4" stroke-linecap="round" stroke-linejoin="round" opacity="0.9" filter="url(#b05)"><path d="M49,117 C50.17,114.5 53.83,106.5 56,102 C58.17,97.5 60.17,93.5 62,90 C63.83,86.5 66.17,82.5 67,81"/></g><g filter="url(#b05)"><g fill="none" stroke="#4c5ad8" stroke-width="1" stroke-linecap="round"><path d="M39.6,109.99 Q39.14,113.49 40.73,116.64" opacity="0.42"/><path d="M37.72,107.06 Q38.45,108.44 37.94,106.97" opacity="0.36"/><path d="M40.73,116.64 Q38.97,118.65 40.49,120.85" opacity="0.32"/><path d="M40.49,120.85 Q40.71,124.28 37.69,125.9" opacity="0.44"/><path d="M57.42,87.47 Q48.39,93.05 40.13,99.71" opacity="0.37"/><path d="M40.13,99.71 Q38.22,103.09 37.94,106.97" opacity="0.31"/><path d="M21.53,122.92 Q25.21,123.33 28.91,123.34" opacity="0.45"/><path d="M52.87,77.52 Q55.13,68 60.23,59.66" opacity="0.5"/><path d="M48.1,71.24 Q47.38,69.18 47.12,67.02" opacity="0.33"/><path d="M47.12,67.02 Q48.48,64.85 48.95,62.34" opacity="0.3"/><path d="M59.37,56.54 Q59.5,54.12 58.89,51.79" opacity="0.44"/><path d="M-0.86,130.72 Q3.12,123.13 4.75,114.71" opacity="0.39"/><path d="M9.74,118.6 Q7.65,116.14 4.75,114.71" opacity="0.27"/><path d="M21.53,122.92 Q22.29,121.36 20.56,121.2" opacity="0.28"/><path d="M9.74,118.6 Q14.99,120.57 20.56,121.2" opacity="0.39"/><path d="M4.75,114.71 Q2.22,104.68 -0.37,94.67" opacity="0.35"/><path d="M33.01,49.44 Q39.72,58.5 47.12,67.02" opacity="0.4"/><path d="M-5.17,61.9 Q-3.27,56.55 -2.62,50.9" opacity="0.36"/><path d="M6.34,34.52 Q10.22,44.34 10.71,54.89" opacity="0.32"/><path d="M13.45,69.27 Q12.52,67.59 14.23,66.72" opacity="0.41"/><path d="M76.66,42.39 Q73.22,37.28 68.81,32.96" opacity="0.47"/><path d="M76.74,49.71 Q71.49,48.01 68.24,43.54" opacity="0.73"/><path d="M77.42,52.65 Q79.41,50.65 76.74,49.71" opacity="0.6"/><path d="M66.37,47.24 Q68.57,46.03 68.24,43.54" opacity="0.56"/><path d="M77.42,52.65 Q77.77,55.46 75.03,56.16" opacity="0.59"/><path d="M75.03,56.16 Q78.09,64.4 79.86,73" opacity="0.7"/><path d="M72.49,70.75 Q75.94,72.49 79.73,73.24" opacity="0.61"/><path d="M20.56,121.2 Q21.01,116.86 21.79,112.58" opacity="0.42"/><path d="M26.62,102.86 Q26.38,108.8 21.79,112.58" opacity="0.43"/><path d="M70.73,61.45 Q69.33,63.78 66.94,62.48" opacity="0.7"/><path d="M73.65,56.98 Q68.28,54.71 66.34,49.21" opacity="0.58"/><path d="M65.05,60.06 Q65.58,55.95 64.54,51.94" opacity="0.73"/><path d="M75.03,56.16 Q75.38,58.31 73.65,56.98" opacity="0.58"/><path d="M72.49,70.75 Q73.93,65.66 70.73,61.45" opacity="0.57"/><path d="M58.93,85.15 Q63.88,74.15 66.94,62.48" opacity="0.65"/><path d="M66.37,47.24 Q68.65,48.27 66.34,49.21" opacity="0.56"/><path d="M58.89,51.79 Q61.67,53.34 64.54,51.94" opacity="0.56"/><path d="M24.48,95.41 Q27.89,88.7 32.72,82.92" opacity="0.33"/><path d="M31.6,80.12 Q33.93,80.1 32.73,82.11" opacity="0.38"/><path d="M32.73,82.11 Q33.58,82.52 32.72,82.92" opacity="0.27"/><path d="M7.48,86.62 Q5.55,87.75 6.26,85.63" opacity="0.35"/><path d="M6.32,85.36 Q6.38,85.51 6.26,85.63" opacity="0.4"/><path d="M40.13,99.71 Q37.68,90.76 32.72,82.92" opacity="0.42"/><path d="M33.01,49.44 Q30.79,64.71 31.6,80.12" opacity="0.41"/><path d="M13.45,69.27 Q12.99,69.83 13.27,70.49" opacity="0.28"/><path d="M-0.37,94.67 Q2.62,89.91 6.26,85.63" opacity="0.48"/></g></g><line x1="6.3" y1="118" x2="15.4" y2="118" stroke="#cfcfcf" stroke-width="1.4"/><text x="104.4" y="9.8" font-size="9.6" font-weight="bold" fill="#fff" textLength="14.9" lengthAdjust="spacingAndGlyphs">WT</text><text x="98.3" y="109.4" font-size="10" font-weight="bold" fill="#e2312f" textLength="26.2" lengthAdjust="spacingAndGlyphs">Gfrα2</text><text x="99.5" y="122.1" font-size="10" font-weight="bold" fill="#5aaee6" textLength="24.8" lengthAdjust="spacingAndGlyphs">CD31</text></g></g>
<clipPath id="cE"><rect x="161.3" y="193" width="125.7" height="126"/></clipPath>
<g clip-path="url(#cE)"><rect x="161.3" y="193" width="125.7" height="126" fill="#110913"/>
<g transform="translate(161.3,193)"><rect width="127" height="127" filter="url(#nzR)"/><g fill="none" stroke="#c02a32" stroke-width="0.7" stroke-linecap="round"><path d="M41.6,0.25 Q37.7,1.35 37.32,5.38" opacity="0.78"/><path d="M29.67,0.44 Q31.62,-1.11 32.78,1.09" opacity="0.58"/><path d="M29.67,0.44 Q27.43,3.17 26.97,6.66" opacity="0.47"/><path d="M39.91,123.4 Q40.76,124.78 42.35,125.14" opacity="0.84"/><path d="M36.49,121.47 Q35.18,118.8 32.23,119.23" opacity="0.74"/><path d="M-5.08,24.6 Q-5.27,14.47 -1.05,5.26" opacity="0.3"/><path d="M-1.11,4.65 Q-3.17,5.17 -1.05,5.26" opacity="0.35"/><path d="M122.67,48.49 Q125.75,57.51 130.83,65.58" opacity="0.64"/><path d="M131.16,60.27 Q129.16,62.81 130.83,65.58" opacity="0.77"/><path d="M121.76,59.3 Q125.47,62.82 125.45,67.94" opacity="0.66"/><path d="M125.45,67.94 Q128.13,67.93 130.82,67.94" opacity="0.59"/><path d="M130.82,67.94 Q133.09,66.77 130.83,65.58" opacity="0.61"/><path d="M95.74,120.03 Q92.14,125.47 90.04,131.64" opacity="0.79"/><path d="M95.74,120.03 Q93.25,116.53 91.76,112.5" opacity="0.77"/><path d="M91.76,112.5 Q91.71,122.14 90.04,131.64" opacity="0.59"/><path d="M42.35,125.14 Q43.45,122.86 45.98,122.8" opacity="0.66"/><path d="M47.23,127.59 Q46.51,125.22 45.98,122.8" opacity="0.62"/><path d="M47.23,127.59 Q52.63,123.92 55.27,117.94" opacity="0.49"/><path d="M59.24,128.07 Q55.72,123.61 55.27,117.94" opacity="0.82"/><path d="M37.75,121.18 Q39.94,121.21 39.91,123.4" opacity="0.75"/><path d="M72.77,106.62 Q76.03,99 80.35,91.94" opacity="0.49"/><path d="M72.77,106.62 Q74.72,97.99 72.82,89.34" opacity="0.67"/><path d="M72.82,89.34 Q71.78,87.13 73.92,88.33" opacity="0.52"/><path d="M80.35,91.94 Q80.03,90.42 79.58,88.92" opacity="0.79"/><path d="M26.97,6.66 Q28.29,8.76 25.96,9.6" opacity="0.57"/><path d="M21.12,1.77 Q22.87,6.1 25.96,9.6" opacity="0.69"/><path d="M50.8,10.21 Q47.69,7.78 47.89,3.83" opacity="0.58"/><path d="M50.8,10.21 Q50.45,12.19 50.82,14.16" opacity="0.83"/><path d="M50.82,14.16 Q51.59,16.07 49.54,16.09" opacity="0.8"/><path d="M46.51,4.8 Q46.92,3.92 47.89,3.83" opacity="0.64"/><path d="M53.71,7.27 Q51.63,8.13 50.8,10.21" opacity="0.72"/><path d="M41.6,0.25 Q43.09,2.47 43.76,5.06" opacity="0.6"/><path d="M43.76,5.06 Q44.93,2.81 46.51,4.8" opacity="0.57"/><path d="M39.27,55.26 Q38.78,56.03 37.87,55.96" opacity="0.59"/><path d="M39.27,55.26 Q40.54,59.3 44.3,61.26" opacity="0.64"/><path d="M37.87,55.96 Q41.69,62.79 40.62,70.54" opacity="0.81"/><path d="M40.62,70.54 Q41.61,71.28 42.57,70.5" opacity="0.63"/><path d="M108.89,81.73 Q105.19,81.41 103.08,78.34" opacity="0.7"/><path d="M108.89,81.73 Q112.8,80.7 112.75,76.66" opacity="0.64"/><path d="M110,96.02 Q109.26,88.89 108.89,81.73" opacity="0.61"/><path d="M105.91,91.63 Q105.32,87.38 101.77,84.97" opacity="0.55"/><path d="M101.77,84.97 Q101.27,81.43 103.08,78.34" opacity="0.63"/><path d="M109.41,55.46 Q107.84,60.45 108.47,65.63" opacity="0.59"/><path d="M100.34,66.76 Q101.86,71.06 103.22,75.42" opacity="0.65"/><path d="M101.08,86.08 Q100.92,85.2 101.77,84.97" opacity="0.5"/><path d="M101.08,86.08 Q99.2,85.35 97.56,84.17" opacity="0.63"/><path d="M100.34,66.76 Q96.8,66.68 93.32,67.37" opacity="0.5"/><path d="M91.06,74.82 Q92.58,75.58 91.26,76.65" opacity="0.47"/><path d="M110,96.02 Q112.03,95.48 110.38,96.78" opacity="0.66"/><path d="M106.36,109.94 Q108.3,103.34 110.38,96.78" opacity="0.68"/><path d="M106.36,109.94 Q105.25,108.31 104.44,110.1" opacity="0.8"/><path d="M105.91,91.63 Q105.11,100.28 103.35,108.79" opacity="0.58"/><path d="M104.44,110.1 Q102.43,110.66 103.35,108.79" opacity="0.58"/><path d="M93.32,67.37 Q92.87,66.26 93.34,65.17" opacity="0.74"/><path d="M46.62,113.64 Q42.98,110.79 38.44,111.66" opacity="0.82"/><path d="M48.31,109.67 Q43.59,104.13 37.65,99.94" opacity="0.54"/><path d="M38.44,111.66 Q39.81,106.05 37.17,100.91" opacity="0.58"/><path d="M45.98,122.8 Q46.08,118.2 46.62,113.64" opacity="0.7"/><path d="M48.32,109.64 Q48.53,109.77 48.31,109.67" opacity="0.79"/><path d="M55.27,117.94 Q57.08,117.16 55.12,117.34" opacity="0.49"/><path d="M37.75,121.18 Q36.83,121.18 37.55,120.61" opacity="0.54"/><path d="M37.55,120.61 Q35.81,119.55 36.49,121.47" opacity="0.47"/><path d="M33.74,98.99 Q36.36,98.34 37.17,100.91" opacity="0.52"/><path d="M85.22,122.93 Q84.01,121.35 84.59,119.45" opacity="0.75"/><path d="M84.59,119.45 Q85.29,126.13 81.31,131.54" opacity="0.59"/><path d="M84.39,118.01 Q86.04,118.51 84.59,119.45" opacity="0.75"/><path d="M79.46,123.56 Q78.35,125.24 78.39,127.26" opacity="0.65"/><path d="M78.39,127.26 Q81.3,128.42 81.31,131.54" opacity="0.64"/><path d="M70.4,126.76 Q70.29,122.65 71.06,118.61" opacity="0.54"/><path d="M71.06,118.61 Q71.49,117.96 71.79,117.23" opacity="0.58"/><path d="M71.79,117.23 Q74.57,124.14 76.61,131.31" opacity="0.68"/><path d="M59.24,128.07 Q59.02,123.98 61.95,121.13" opacity="0.66"/><path d="M61.95,121.13 Q66.86,121.14 71.06,118.61" opacity="0.65"/><path d="M78.39,127.26 Q78.83,129.87 76.61,131.31" opacity="0.57"/><path d="M74.97,112.91 Q73.56,114.47 72.6,112.6" opacity="0.48"/><path d="M72.6,112.6 Q70.94,114.69 71.79,117.23" opacity="0.73"/><path d="M70.81,88.95 Q67.87,87.59 69.44,84.76" opacity="0.68"/><path d="M70.81,88.95 Q72,88.17 72.82,89.34" opacity="0.63"/><path d="M72.21,66.99 Q71.03,66.26 70.95,64.88" opacity="0.62"/><path d="M72.21,66.99 Q70.9,77.83 73.92,88.33" opacity="0.57"/><path d="M70.95,64.88 Q67.72,68.65 69.29,73.36" opacity="0.48"/><path d="M69.29,73.36 Q70.21,79.05 69.44,84.76" opacity="0.67"/><path d="M90.04,80.79 Q87.07,93.74 88.2,106.97" opacity="0.83"/><path d="M83.77,105.05 Q84.44,106.7 85.36,108.21" opacity="0.59"/><path d="M91.23,76.87 Q92.14,79.28 90.04,80.79" opacity="0.83"/><path d="M91.23,76.87 Q93.92,86.6 93.24,96.67" opacity="0.52"/><path d="M93.24,96.67 Q93.05,102.61 89.35,107.26" opacity="0.74"/><path d="M89.35,107.26 Q88.83,106.88 88.2,106.97" opacity="0.61"/><path d="M74.97,112.91 Q79.35,108.95 83.77,105.05" opacity="0.49"/><path d="M72.77,106.62 Q74.2,108.41 72.16,109.44" opacity="0.67"/><path d="M80.35,91.94 Q78.92,93.77 81.24,93.82" opacity="0.73"/><path d="M72.16,109.44 Q71.34,111.16 72.6,112.6" opacity="0.62"/><path d="M84.39,118.01 Q85.34,113.16 85.36,108.21" opacity="0.85"/><path d="M91.76,112.5 Q89.51,111.31 90.54,108.99" opacity="0.59"/><path d="M89.79,132.49 Q90.21,132.15 90.04,131.64" opacity="0.71"/><path d="M89.79,132.49 Q88.43,127.27 85.22,122.93" opacity="0.75"/><path d="M89.35,107.26 Q91.44,107.1 90.54,108.99" opacity="0.55"/><path d="M79.58,88.92 Q81.57,82.24 80.18,75.41" opacity="0.74"/><path d="M84.16,67.4 Q83.81,72.23 80.18,75.41" opacity="0.48"/><path d="M70.95,64.88 Q68.88,62.54 70.01,59.63" opacity="0.83"/><path d="M70.01,59.63 Q70.19,58.03 70.53,56.46" opacity="0.63"/><path d="M70.53,56.46 Q74.84,56.98 78.54,59.26" opacity="0.63"/><path d="M78.54,59.26 Q77.32,64.67 75.86,70.03" opacity="0.49"/><path d="M75.86,70.03 Q76.68,73.8 80.18,75.41" opacity="0.6"/><path d="M35.01,73.33 Q28.86,79.63 26.38,88.08" opacity="0.8"/><path d="M33.4,60.37 Q29.44,61.79 25.57,63.42" opacity="0.62"/><path d="M23.3,68.56 Q22.56,67.18 23.86,66.32" opacity="0.13"/><path d="M35.9,74.59 Q37,73.57 36.25,74.87" opacity="0.78"/><path d="M36.25,74.87 Q39.48,73.76 40.62,70.54" opacity="0.49"/><path d="M37.87,55.96 Q36.3,55.25 34.61,55.62" opacity="0.56"/><path d="M34.61,55.62 Q34.71,58.18 33.4,60.37" opacity="0.66"/><path d="M33.74,98.99 Q34.07,86.72 35.9,74.59" opacity="0.74"/><path d="M19.58,42.95 Q22.04,39.46 26.28,39.94" opacity="0.49"/><path d="M19.58,42.95 Q19.45,55.05 23.86,66.32" opacity="0.77"/><path d="M25.57,63.42 Q26.88,52.47 27.01,41.43" opacity="0.75"/><path d="M26.28,39.94 Q28.42,39.82 27.01,41.43" opacity="0.53"/><path d="M62.35,61.74 Q60.19,56.83 60.46,51.47" opacity="0.84"/><path d="M62.35,61.74 Q66.69,62.56 70.01,59.63" opacity="0.67"/><path d="M60.46,51.47 Q63.1,48.47 64.7,44.8" opacity="0.73"/><path d="M70.53,56.46 Q72.32,56.12 70.64,55.43" opacity="0.53"/><path d="M49.54,16.09 Q50.26,22.63 47.14,28.43" opacity="0.68"/><path d="M47.14,28.43 Q46.93,28.7 46.76,28.4" opacity="0.8"/><path d="M44.01,24.57 Q45.1,26.69 46.76,28.4" opacity="0.52"/><path d="M60.46,51.47 Q58.75,49.45 58.88,46.81" opacity="0.53"/><path d="M58.88,46.81 Q55.07,49.09 53,53.01" opacity="0.78"/><path d="M51.24,38.75 Q49.88,45.76 50.88,52.84" opacity="0.58"/><path d="M51.24,38.75 Q54.91,36.93 59.01,36.9" opacity="0.61"/><path d="M59.01,36.9 Q59.62,41.86 58.88,46.81" opacity="0.67"/><path d="M53,53.01 Q52.01,52.11 50.88,52.84" opacity="0.82"/><path d="M50.82,14.16 Q52.71,14.1 53.13,15.94" opacity="0.8"/><path d="M48.87,29.94 Q48.09,29.09 47.14,28.43" opacity="0.75"/><path d="M48.87,29.94 Q50.42,26.34 53.6,24.04" opacity="0.74"/><path d="M53.6,24.04 Q51.35,20.11 53.13,15.94" opacity="0.58"/><path d="M59.11,36.47 Q59.99,36.91 59.01,36.9" opacity="0.77"/><path d="M59.11,36.47 Q57.87,35.12 59.02,33.7" opacity="0.77"/><path d="M48.87,29.94 Q49.51,34.49 51.24,38.75" opacity="0.51"/><path d="M59.02,33.7 Q59.33,28.27 55.29,24.62" opacity="0.62"/><path d="M53.6,24.04 Q54.88,23.08 55.29,24.62" opacity="0.51"/><path d="M53.71,7.27 Q55.82,9.26 54.31,11.74" opacity="0.56"/><path d="M54.31,11.74 Q54.81,14.15 53.13,15.94" opacity="0.76"/><path d="M54.31,11.74 Q57.42,10.94 58.09,14.07" opacity="0.6"/><path d="M59.02,33.7 Q61.39,27.99 62.28,21.87" opacity="0.75"/><path d="M55.29,24.62 Q54.49,19.13 58.18,14.99" opacity="0.84"/><path d="M62.28,21.87 Q59.08,19.12 58.18,14.99" opacity="0.58"/><path d="M58.09,14.07 Q56.33,14.72 58.18,14.99" opacity="0.59"/><path d="M121.76,59.3 Q120.24,60.28 120.48,62.08" opacity="0.83"/><path d="M109.41,55.46 Q112.39,61.35 117.82,65.1" opacity="0.59"/><path d="M120.48,62.08 Q118.58,63.09 117.82,65.1" opacity="0.72"/><path d="M112.75,76.66 Q112.25,77.63 113.18,77.05" opacity="0.73"/><path d="M117.82,65.1 Q117.39,70.48 115.43,75.5" opacity="0.52"/><path d="M115.43,75.5 Q117.88,75.21 115.95,76.75" opacity="0.73"/><path d="M100.44,92.54 Q99.86,96.31 99.84,100.13" opacity="0.7"/><path d="M100.44,92.54 Q96.78,91.6 94.29,94.43" opacity="0.84"/><path d="M99.84,100.13 Q96.08,99.34 93.39,96.59" opacity="0.67"/><path d="M94.29,94.43 Q95.12,96.05 93.39,96.59" opacity="0.51"/><path d="M101.08,86.08 Q101.97,89.43 100.44,92.54" opacity="0.69"/><path d="M99.99,102.72 Q99.56,101.44 99.84,100.13" opacity="0.72"/><path d="M99.99,102.72 Q102.22,104.31 101,106.76" opacity="0.77"/><path d="M97.56,84.17 Q97.63,89.85 94.29,94.43" opacity="0.75"/><path d="M93.24,96.67 Q94.24,98.34 93.39,96.59" opacity="0.69"/><path d="M95.74,120.03 Q97.11,119.36 96.72,120.84" opacity="0.7"/><path d="M101,106.76 Q99.55,113.88 96.89,120.63" opacity="0.67"/><path d="M96.72,120.84 Q96.19,120.25 96.89,120.63" opacity="0.75"/><path d="M104.44,110.1 Q101.3,117.14 103.02,124.65" opacity="0.57"/><path d="M96.89,120.63 Q101.14,120.82 103.02,124.65" opacity="0.48"/><path d="M92.02,41 Q87.42,46.62 83.31,52.6" opacity="0.53"/><path d="M92.24,41.14 Q90.05,47.72 90.66,54.62" opacity="0.79"/><path d="M90.66,54.62 Q86.56,54.38 83.66,57.3" opacity="0.62"/><path d="M83.66,57.3 Q81.36,57.01 83.38,55.88" opacity="0.82"/><path d="M83.38,55.88 Q84.91,55.03 83.26,54.47" opacity="0.59"/><path d="M83.31,52.6 Q85.27,53.59 83.26,54.47" opacity="0.81"/><path d="M82.02,43.21 Q85.6,39.37 90.82,38.79" opacity="0.57"/><path d="M82.02,43.21 Q81.55,48.06 83.31,52.6" opacity="0.6"/><path d="M90.82,38.79 Q92.31,39.41 92.02,41" opacity="0.64"/><path d="M99.75,37.93 Q96.81,41.45 92.24,41.14" opacity="0.74"/><path d="M78.54,59.26 Q80.84,57.4 83.38,55.88" opacity="0.77"/><path d="M72.34,51.43 Q70.08,51.83 70.95,53.96" opacity="0.76"/><path d="M72.34,51.43 Q77.66,53.43 83.26,54.47" opacity="0.83"/><path d="M70.64,55.43 Q73.21,55.2 70.95,53.96" opacity="0.48"/><path d="M-1.05,5.26 Q4.12,9.47 7.12,15.43" opacity="0.39"/><path d="M21.12,1.77 Q18.12,5 17.18,9.3" opacity="0.78"/><path d="M17.18,9.3 Q15.3,8.6 14.58,6.73" opacity="0.59"/><path d="M25.96,9.6 Q28.08,13.23 26.09,16.93" opacity="0.85"/><path d="M26.09,16.93 Q23.69,21.01 19.62,23.43" opacity="0.5"/><path d="M17.18,9.3 Q15.79,13.79 16.91,18.35" opacity="0.62"/><path d="M19.62,23.43 Q17.5,21.29 16.91,18.35" opacity="0.5"/><path d="M14.58,6.73 Q15.81,12.46 12.31,17.17" opacity="0.6"/><path d="M16.91,18.35 Q14.91,16.6 12.31,17.17" opacity="0.75"/><path d="M35.64,20.65 Q35.5,23.64 32.72,22.51" opacity="0.78"/><path d="M35.64,20.65 Q37.64,23.89 40.01,26.88" opacity="0.57"/><path d="M32.72,22.51 Q32.76,32.88 32.83,43.24" opacity="0.58"/><path d="M33.53,44.61 Q32.85,44.09 32.83,43.24" opacity="0.61"/><path d="M33.53,44.61 Q37.67,42.49 38.25,37.87" opacity="0.6"/><path d="M37.32,5.38 Q34.4,12.78 35.64,20.65" opacity="0.75"/><path d="M26.09,16.93 Q23.99,17.81 26.17,17.15" opacity="0.71"/><path d="M26.17,17.15 Q30.47,18.58 32.72,22.51" opacity="0.75"/><path d="M26.17,17.15 Q25.19,28.55 26.28,39.94" opacity="0.47"/><path d="M34.61,55.62 Q36.5,49.88 33.53,44.61" opacity="0.51"/><path d="M40.73,49.96 Q40.47,43.72 38.25,37.87" opacity="0.47"/><path d="M40.73,49.96 Q37.98,52.05 39.27,55.26" opacity="0.56"/><path d="M59.11,36.47 Q60.6,39.15 63.11,37.39" opacity="0.77"/><path d="M64.7,44.8 Q65.34,41.22 63.97,37.85" opacity="0.64"/><path d="M63.11,37.39 Q64.49,35.83 63.97,37.85" opacity="0.64"/><path d="M62.28,21.87 Q63.31,19.9 65.45,19.27" opacity="0.61"/><path d="M63.11,37.39 Q62.2,28.06 65.45,19.27" opacity="0.59"/><path d="M70.95,53.96 Q70.07,44.06 68,34.35" opacity="0.8"/><path d="M63.97,37.85 Q65.7,35.77 68,34.35" opacity="0.79"/><path d="M67.98,16.69 Q65.83,17.11 65.45,19.27" opacity="0.79"/><path d="M45.19,47.57 Q43.35,46.7 41.87,48.1" opacity="0.56"/><path d="M44.95,39.5 Q42.38,38.42 41.41,41.04" opacity="0.67"/><path d="M41.87,48.1 Q39.3,44.72 41.41,41.04" opacity="0.63"/><path d="M48.58,56.82 Q48.02,59.12 48.87,56.91" opacity="0.84"/><path d="M48.58,56.82 Q49,51.42 45.19,47.57" opacity="0.69"/><path d="M46.76,28.4 Q45.07,33.82 44.95,39.5" opacity="0.68"/><path d="M48.87,56.91 Q48.48,54.19 50.88,52.84" opacity="0.56"/><path d="M40.73,49.96 Q42.13,49.54 41.87,48.1" opacity="0.56"/><path d="M38.6,37.01 Q41.66,37.87 41.41,41.04" opacity="0.66"/><path d="M59.84,68.7 Q60.43,71.17 59.03,73.29" opacity="0.56"/><path d="M50.12,65.29 Q48.35,61.27 48.87,56.91" opacity="0.73"/><path d="M59.03,73.29 Q60.2,75.75 57.56,76.4" opacity="0.74"/><path d="M59.03,73.29 Q61.71,76.49 64.33,79.75" opacity="0.69"/><path d="M69.44,84.76 Q67.36,84.71 65.35,85.26" opacity="0.84"/><path d="M64.33,79.75 Q64.48,82.57 65.35,85.26" opacity="0.77"/><path d="M48.32,109.64 Q45.87,103.66 48.36,97.7" opacity="0.83"/><path d="M55.12,117.34 Q57.87,105.36 57.14,93.09" opacity="0.71"/><path d="M48.36,97.7 Q50.38,93.82 52.34,89.92" opacity="0.63"/><path d="M55.86,88.54 Q54.98,90.5 56.85,91.56" opacity="0.83"/><path d="M61.95,121.13 Q63.07,115.88 63.14,110.52" opacity="0.7"/><path d="M63.14,110.52 Q67.68,108.64 68.44,103.79" opacity="0.73"/><path d="M63.14,110.52 Q64.51,104.81 61.22,99.95" opacity="0.73"/><path d="M68.44,103.79 Q68.8,100.41 67.74,97.18" opacity="0.5"/><path d="M37.65,99.94 Q41.56,96.91 40.93,92.02" opacity="0.65"/><path d="M48.36,97.7 Q45.31,95.29 42.64,92.47" opacity="0.52"/><path d="M40.93,92.02 Q41.72,92.5 42.64,92.47" opacity="0.5"/><path d="M36.25,74.87 Q40.58,81.53 40.75,89.47" opacity="0.63"/><path d="M40.93,92.02 Q39.12,90.87 40.75,89.47" opacity="0.74"/><path d="M132.08,87.77 Q134.79,82.95 133.24,77.64" opacity="0.8"/><path d="M131.39,69.31 Q133.75,70.67 131.38,72.01" opacity="0.83"/><path d="M131.45,88.8 Q129.29,84.49 129.3,79.66" opacity="0.48"/><path d="M131.45,88.8 Q131.7,94.04 129.76,98.91" opacity="0.84"/><path d="M129.76,98.91 Q128.13,101.5 126.04,99.27" opacity="0.66"/><path d="M129.3,79.66 Q127.3,78.69 125.44,79.89" opacity="0.8"/><path d="M122.64,98.75 Q120.62,92.18 123.45,85.91" opacity="0.79"/><path d="M122.64,98.75 Q124.22,99.79 126.04,99.27" opacity="0.73"/><path d="M125.44,79.89 Q126.43,83.55 123.45,85.91" opacity="0.69"/><path d="M131.38,72.01 Q130.88,75.98 129.3,79.66" opacity="0.61"/><path d="M132.08,87.77 Q131.5,88.12 131.45,88.8" opacity="0.82"/><path d="M129.28,122.19 Q125.19,111.08 126.04,99.27" opacity="0.58"/><path d="M125.45,67.94 Q127.25,73.91 125.44,79.89" opacity="0.72"/><path d="M121.41,79.67 Q124.48,82.12 123.45,85.91" opacity="0.72"/><path d="M111.74,96.61 Q115.4,100.8 119.23,104.82" opacity="0.55"/><path d="M111.74,96.61 Q114.27,90.37 112.97,83.76" opacity="0.66"/><path d="M112.97,83.76 Q115.86,86.51 118.36,89.63" opacity="0.48"/><path d="M119.23,104.82 Q118.71,103.54 119.92,104.21" opacity="0.54"/><path d="M119.92,104.21 Q119.55,102.22 121.15,100.97" opacity="0.85"/><path d="M121.15,100.97 Q118.61,95.58 118.36,89.63" opacity="0.58"/><path d="M110.38,96.78 Q110.76,94.3 111.74,96.61" opacity="0.79"/><path d="M113.18,77.05 Q110.88,80.33 112.97,83.76" opacity="0.47"/><path d="M115.95,76.75 Q119.54,82.74 118.36,89.63" opacity="0.8"/><path d="M122.64,98.75 Q122.08,99.98 121.15,100.97" opacity="0.67"/><path d="M68,34.35 Q69.98,28.3 69.96,21.93" opacity="0.8"/><path d="M68.61,17.87 Q71.12,19.29 69.96,21.93" opacity="0.51"/><path d="M68.61,17.87 Q72.54,10.21 76.55,2.59" opacity="0.75"/><path d="M74.83,43.57 Q72.16,34.3 74.23,24.87" opacity="0.55"/><path d="M74.83,43.57 Q78.11,41.88 81.8,42.11" opacity="0.51"/><path d="M81.8,42.11 Q80.75,34.37 82.63,26.78" opacity="0.79"/><path d="M74.23,24.87 Q75.12,24.8 75.61,24.05" opacity="0.6"/><path d="M72.34,51.43 Q73.78,47.56 74.83,43.57" opacity="0.8"/><path d="M69.96,21.93 Q70.99,25.01 74.23,24.87" opacity="0.52"/><path d="M81.67,-0.08 Q81.45,3.52 77.85,3.84" opacity="0.62"/><path d="M81.67,-0.08 Q84.05,3.47 87.38,6.14" opacity="0.82"/><path d="M87.38,6.14 Q86.14,10.82 86.42,15.65" opacity="0.76"/><path d="M77.85,3.84 Q79.4,4.47 77.84,5.09" opacity="0.65"/><path d="M77.84,5.09 Q80.43,15.19 83.65,25.11" opacity="0.59"/><path d="M86.42,15.65 Q85.6,19.2 85.05,22.8" opacity="0.8"/><path d="M84.75,23.83 Q83.05,23.49 83.65,25.11" opacity="0.57"/><path d="M76.55,2.59 Q76.13,4.33 77.85,3.84" opacity="0.67"/><path d="M82.63,26.78 Q81.51,24.96 83.65,25.11" opacity="0.78"/><path d="M103.97,31.35 Q93.73,28.81 85.05,22.8" opacity="0.58"/><path d="M90.82,38.79 Q87.35,31.49 84.75,23.83" opacity="0.62"/><path d="M13.27,49.05 Q9.21,59.28 2.98,68.35" opacity="0.33"/><path d="M-5.08,24.6 Q-2.15,30.12 1.69,35.06" opacity="0.3"/><path d="M2.77,64.8 Q2.29,49.93 1.69,35.06" opacity="0.48"/><path d="M7.55,18.74 Q9.32,17.62 11.41,17.86" opacity="0.36"/><path d="M7.55,18.74 Q5.69,20.58 6.93,22.89" opacity="0.31"/><path d="M6.93,22.89 Q9.47,33.13 15.61,41.72" opacity="0.37"/><path d="M15.61,41.72 Q17.68,42.31 16.82,40.34" opacity="0.55"/><path d="M16.82,40.34 Q18.63,38.16 17.32,35.64" opacity="0.67"/><path d="M7.12,15.43 Q5.09,17.37 7.55,18.74" opacity="0.31"/><path d="M12.31,17.17 Q13.2,19.25 11.41,17.86" opacity="0.37"/><path d="M1.69,35.06 Q6.59,29.96 6.93,22.89" opacity="0.48"/><path d="M19.62,23.43 Q17.78,29.41 17.32,35.64" opacity="0.81"/><path d="M13.27,49.05 Q14.02,45.25 15.61,41.72" opacity="0.63"/><path d="M65.05,87.38 Q65.59,89.73 63.24,89.17" opacity="0.6"/><path d="M65.05,87.38 Q64.43,91.89 66.6,95.89" opacity="0.6"/><path d="M63.24,89.17 Q63.75,93.06 64.32,96.93" opacity="0.81"/><path d="M66.6,95.89 Q65.33,96.12 64.32,96.93" opacity="0.81"/><path d="M57.56,76.4 Q57.42,82.57 55.86,88.54" opacity="0.63"/><path d="M56.85,91.56 Q60.78,92.31 63.24,89.17" opacity="0.66"/><path d="M65.35,85.26 Q66.55,86.51 65.05,87.38" opacity="0.5"/><path d="M67.74,97.18 Q67.51,96.24 66.6,95.89" opacity="0.83"/><path d="M61.22,99.95 Q62.54,98.2 64.32,96.93" opacity="0.63"/><path d="M48.34,79.46 Q47.58,78.3 47.1,79.6" opacity="0.59"/><path d="M48.34,79.46 Q47.45,74.68 49.1,70.11" opacity="0.59"/><path d="M47.1,79.6 Q45.7,77.07 43.45,75.24" opacity="0.83"/><path d="M49.1,70.11 Q45.23,70.14 43.27,73.47" opacity="0.54"/><path d="M43.27,73.47 Q41.49,74.55 43.45,75.24" opacity="0.53"/><path d="M52.34,89.92 Q49.7,84.94 48.34,79.46" opacity="0.49"/><path d="M42.64,92.47 Q44.53,85.92 47.1,79.6" opacity="0.75"/><path d="M50.12,65.29 Q52.03,68.22 49.1,70.11" opacity="0.56"/><path d="M40.75,89.47 Q42.04,82.34 43.45,75.24" opacity="0.5"/><path d="M42.57,70.5 Q42.61,72.06 43.27,73.47" opacity="0.53"/><path d="M127.42,126.82 Q124.26,119.78 122.19,112.34" opacity="0.55"/><path d="M122.19,112.34 Q121.36,121.31 121.27,130.32" opacity="0.56"/><path d="M129.28,122.19 Q129.04,124.79 127.42,126.82" opacity="0.51"/><path d="M119.92,104.21 Q122.81,107.78 122.19,112.34" opacity="0.54"/><path d="M117.27,111.96 Q118.69,114.87 116.78,117.48" opacity="0.8"/><path d="M117.27,111.96 Q113.1,114.18 108.65,115.76" opacity="0.67"/><path d="M116.78,117.48 Q111.75,120.71 108.86,125.95" opacity="0.6"/><path d="M108.65,115.76 Q107.07,120.89 108.86,125.95" opacity="0.68"/><path d="M119.23,104.82 Q119.6,108.76 117.27,111.96" opacity="0.52"/></g><path d="M88,0 L127,0 L127,52 L100,57 L95,43 L90,21Z" fill="#060304" opacity="0.75" filter="url(#b3)"/><g fill="none" stroke="#5868ea" stroke-width="1.5" stroke-linecap="round" stroke-linejoin="round" opacity="0.95" filter="url(#b05)"><path d="M21.9,7.4 C21.78,8.63 21.2,11.93 21.2,14.8 C21.2,17.67 21.38,21.32 21.9,24.6 C22.42,27.88 23.48,31.42 24.3,34.5 C25.12,37.58 26.6,40.65 26.8,43.1 C27,45.55 26.12,47.15 25.5,49.2 C24.88,51.25 23.7,52.93 23.1,55.4 C22.5,57.87 22.1,62.57 21.9,64"/><path d="M26.8,16 C27.62,17.03 30.07,20.35 31.7,22.2 C33.33,24.05 34.97,25.47 36.6,27.1 C38.23,28.73 40.07,30.57 41.5,32 C42.93,33.43 43.97,35.28 45.2,35.7 C46.43,36.12 48.28,34.7 48.9,34.5"/><path d="M45.2,35.7 C45.82,36.32 47.67,37.77 48.9,39.4 C50.13,41.03 51.37,43.45 52.6,45.5 C53.83,47.55 54.87,49.65 56.3,51.7 C57.73,53.75 60.38,56.78 61.2,57.8"/><path d="M3.4,0 C3.6,1.63 4.18,6.72 4.6,9.8 C5.02,12.88 5.9,15.42 5.9,18.5 C5.9,21.58 5.02,25.23 4.6,28.3 C4.18,31.37 4.02,33.82 3.4,36.9 C2.78,39.98 1.32,45.15 0.9,46.8"/><path d="M25.5,49.2 C26.53,48.8 29.63,46.8 31.7,46.8 C33.77,46.8 35.85,49.2 37.9,49.2 C39.95,49.2 42.98,47.2 44,46.8"/><path d="M41.5,3.7 C42.33,5.13 45.27,9.83 46.5,12.3 C47.73,14.77 48.08,16.45 48.9,18.5 C49.72,20.55 50.37,23.98 51.4,24.6 C52.43,25.22 53.87,23.83 55.1,22.2 C56.33,20.57 58.4,17.27 58.8,14.8 C59.2,12.33 57.72,8.63 57.5,7.4"/><path d="M12,3.7 C12.42,4.72 13.88,7.33 14.5,9.8 C15.12,12.27 15.5,17.05 15.7,18.5"/><path d="M62.7,2.5 C63.93,3.12 68.05,4.77 70.1,6.2 C72.15,7.63 73.37,9.05 75,11.1 C76.63,13.15 78.47,16.45 79.9,18.5 C81.33,20.55 82.37,21.77 83.6,23.4 C84.83,25.03 86.48,26.45 87.3,28.3 C88.12,30.15 88.5,32.45 88.5,34.5 C88.5,36.55 88.12,38.55 87.3,40.6 C86.48,42.65 84.62,44.95 83.6,46.8 C82.58,48.65 81.6,50.88 81.2,51.7"/><path d="M62.7,18.5 C63.52,19.52 65.97,22.77 67.6,24.6 C69.23,26.43 70.85,27.85 72.5,29.5 C74.15,31.15 76.05,32.65 77.5,34.5 C78.95,36.35 80.58,39.58 81.2,40.6"/><path d="M66.4,36.9 C66.82,37.93 67.88,41.05 68.9,43.1 C69.92,45.15 70.87,47.35 72.5,49.2 C74.13,51.05 77.67,53.37 78.7,54.2"/><path d="M95.9,55.4 C96.93,55.6 100.25,56.6 102.1,56.6 C103.95,56.6 105.37,55.4 107,55.4 C108.63,55.4 110.05,56.8 111.9,56.6 C113.75,56.4 117.07,54.6 118.1,54.2"/><path d="M20.6,63 C20.82,63.82 21.28,66.27 21.9,67.9 C22.52,69.53 23.28,71.15 24.3,72.8 C25.32,74.45 26.77,76.35 28,77.8 C29.23,79.25 30.47,80.07 31.7,81.5 C32.93,82.93 33.97,84.77 35.4,86.4 C36.83,88.03 38.67,89.87 40.3,91.3 C41.93,92.73 43.77,93.97 45.2,95 C46.63,96.03 48.28,97.08 48.9,97.5"/><path d="M36.6,63 C37.02,64.23 38.28,68.15 39.1,70.4 C39.92,72.65 40.68,74.45 41.5,76.5 C42.32,78.55 43.17,80.43 44,82.7 C44.83,84.97 45.68,87.63 46.5,90.1 C47.32,92.57 48.5,96.27 48.9,97.5"/><path d="M0,67.9 C0.77,67.7 3.02,67.32 4.6,66.7 C6.18,66.08 8.68,64.62 9.5,64.2"/><path d="M32.9,108.5 C34.13,108.3 37.63,107.3 40.3,107.3 C42.97,107.3 46.43,108.08 48.9,108.5 C51.37,108.92 54.07,109.58 55.1,109.8"/><path d="M51.4,85.2 C52.02,86.02 53.87,88.67 55.1,90.1 C56.33,91.53 58.18,93.18 58.8,93.8"/><path d="M81.2,65.5 C82.22,66.12 85.47,67.98 87.3,69.2 C89.13,70.42 90.55,71.58 92.2,72.8 C93.85,74.02 95.75,75.05 97.2,76.5 C98.65,77.95 99.88,79.85 100.9,81.5 C101.92,83.15 102.48,84.77 103.3,86.4 C104.12,88.03 104.77,90.07 105.8,91.3 C106.83,92.53 108.07,92.98 109.5,93.8 C110.93,94.62 112.57,95.38 114.4,96.2 C116.23,97.02 118.57,98.07 120.5,98.7 C122.43,99.33 125.08,99.78 126,100"/><path d="M62.7,77.8 C63.52,77.38 65.97,75.52 67.6,75.3 C69.23,75.08 70.65,75.88 72.5,76.5 C74.35,77.12 76.85,79 78.7,79 C80.55,79 81.97,77.93 83.6,76.5 C85.23,75.07 86.85,72.03 88.5,70.4 C90.15,68.77 92.05,67.93 93.5,66.7 C94.95,65.47 96.28,64.45 97.2,63 C98.12,61.55 98.7,58.83 99,58"/><path d="M99.6,75.3 C100.63,74.88 103.75,73.62 105.8,72.8 C107.85,71.98 109.85,71.22 111.9,70.4 C113.95,69.58 115.75,68.8 118.1,67.9 C120.45,67 124.68,65.48 126,65"/><path d="M84.9,114.7 C85.92,115.12 88.95,117 91,117.2 C93.05,117.4 96.17,116.12 97.2,115.9"/><path d="M70.1,93.8 C70.92,94.42 73.77,95.87 75,97.5 C76.23,99.13 76.27,101.55 77.5,103.6 C78.73,105.65 81.58,108.77 82.4,109.8"/><path d="M61.2,57.8 C61.45,58.83 62.45,60.67 62.7,64 C62.95,67.33 62.7,75.5 62.7,77.8"/><path d="M75,0 C75.83,1 78.5,5.67 80,6 C81.5,6.33 83.33,2.67 84,2"/></g><g filter="url(#b05)"><g fill="none" stroke="#5262e2" stroke-width="1.1" stroke-linecap="round"><path d="M21.8,-3.63 Q17.96,-2.8 14.06,-2.41" opacity="0.39"/><path d="M15.69,51.27 Q20.78,48.34 26.65,48.66" opacity="0.41"/><path d="M29,46.44 Q28.12,54.2 30.7,61.58" opacity="0.43"/><path d="M94.17,80.29 Q99,88.3 99.88,97.61" opacity="0.55"/><path d="M127.08,103.38 Q127.3,99.99 124.62,97.91" opacity="0.41"/><path d="M49.99,96.67 Q46.25,77.05 47.4,57.11" opacity="0.55"/><path d="M30.83,80.79 Q39.65,68.8 44.83,54.85" opacity="0.48"/><path d="M47.4,57.11 Q44.58,57.73 44.83,54.85" opacity="0.5"/><path d="M30.7,61.58 Q37.06,56.14 41.36,48.95" opacity="0.54"/><path d="M31.74,35.46 Q29.31,40.68 29,46.44" opacity="0.69"/><path d="M14.06,-2.41 Q13.21,1.9 13.92,6.24" opacity="0.49"/><path d="M10.09,8.83 Q10.18,6.27 12.3,7.71" opacity="0.51"/><path d="M31.49,34.61 Q33.19,32.7 32.41,30.26" opacity="0.49"/><path d="M31.49,34.61 Q26.19,36.93 20.62,35.37" opacity="0.43"/><path d="M32.41,30.26 Q26.86,21.62 23.73,11.84" opacity="0.59"/><path d="M20.62,35.37 Q20.83,25.63 21.79,15.93" opacity="0.5"/><path d="M21.79,15.93 Q22.64,13.83 23.73,11.84" opacity="0.6"/><path d="M10.09,8.83 Q10.8,10.42 9.06,10.26" opacity="0.56"/><path d="M9.06,10.26 Q8.15,14.03 5.71,17.04" opacity="0.54"/><path d="M5.71,17.04 Q2,13 -1.14,8.49" opacity="0.44"/><path d="M100.75,96.55 Q107.91,97.22 114.74,99.49" opacity="0.41"/><path d="M114.74,99.49 Q116.62,97.33 116.23,94.5" opacity="0.54"/><path d="M124.62,97.91 Q120.78,95.32 116.23,94.5" opacity="0.52"/><path d="M86.42,76.64 Q85.86,77.93 86.99,78.77" opacity="0.6"/><path d="M63.38,86.15 Q64.43,80.04 67.84,74.86" opacity="0.69"/><path d="M31.49,34.61 Q32.19,34.87 31.74,35.46" opacity="0.7"/><path d="M41.2,48.05 Q43.6,40.19 48.06,33.29" opacity="0.51"/><path d="M48.06,33.29 Q45.49,27.79 41.95,22.86" opacity="0.47"/><path d="M38.06,21.79 Q39.51,24.12 41.95,22.86" opacity="0.62"/><path d="M83.64,0.81 Q80.37,0.83 80.64,4.08" opacity="0.67"/><path d="M83.64,0.81 Q83.44,-1.27 83.1,-3.33" opacity="0.54"/><path d="M86.37,26.19 Q82.61,19.55 77.51,13.86" opacity="0.59"/><path d="M13.92,6.24 Q19.09,4.86 23.48,7.93" opacity="0.53"/><path d="M16.72,19.63 Q19,17.43 21.79,15.93" opacity="0.53"/><path d="M23.73,11.84 Q21.84,10.16 23.79,8.54" opacity="0.51"/><path d="M23.48,7.93 Q22.13,8.97 23.79,8.54" opacity="0.49"/><path d="M20.62,35.37 Q16.99,36.5 14.45,39.32" opacity="0.58"/><path d="M16.72,19.63 Q14.68,24.87 11.35,29.4" opacity="0.49"/><path d="M14.45,39.32 Q11.84,34.69 11.35,29.4" opacity="0.58"/><path d="M63.38,86.15 Q58.22,73.26 56.21,59.52" opacity="0.39"/><path d="M50.71,55.27 Q52.39,58.77 56.21,59.52" opacity="0.57"/><path d="M67.84,74.86 Q67.11,69.95 69.63,65.68" opacity="0.65"/><path d="M69.54,65.13 Q65.64,60.64 63.91,54.95" opacity="0.68"/><path d="M56.21,59.52 Q60.8,58.49 63.91,54.95" opacity="0.45"/><path d="M57.48,26.9 Q57.48,22.46 55.26,18.62" opacity="0.65"/><path d="M57.48,26.9 Q59.42,24.74 62.29,24.29" opacity="0.46"/><path d="M55.26,18.62 Q61.23,15.74 63.54,9.52" opacity="0.52"/><path d="M62.29,24.29 Q65,17.08 63.54,9.52" opacity="0.41"/><path d="M37.43,14.53 Q40.76,8.9 41.38,2.38" opacity="0.53"/><path d="M37.43,14.53 Q35.14,9.09 29.56,7.17" opacity="0.44"/><path d="M41.38,2.38 Q36.6,3.15 32.98,-0.07" opacity="0.66"/><path d="M29.56,7.17 Q33.12,4.42 32.98,-0.07" opacity="0.61"/><path d="M38.06,21.79 Q35.85,18.33 37.43,14.53" opacity="0.44"/><path d="M23.79,8.54 Q26.13,5.57 29.56,7.17" opacity="0.64"/><path d="M41.95,22.86 Q42.01,19.38 45.42,18.7" opacity="0.59"/><path d="M48.72,33.19 Q50.13,26.61 52.11,20.18" opacity="0.68"/><path d="M45.42,18.7 Q48.65,19.96 52.11,20.18" opacity="0.57"/><path d="M41.38,2.38 Q43.14,2.19 42.95,0.43" opacity="0.51"/><path d="M52.34,51.93 Q55.8,49.13 60.22,49.6" opacity="0.41"/><path d="M60.22,49.6 Q57.88,43.47 57.88,36.91" opacity="0.51"/><path d="M57.88,36.91 Q56.13,38.12 56.3,36" opacity="0.5"/><path d="M55.26,18.62 Q54.3,19.41 53.97,18.21" opacity="0.46"/><path d="M53.97,18.21 Q53.14,19.29 52.11,20.18" opacity="0.65"/><path d="M50.71,55.27 Q50.7,53.19 52.34,51.93" opacity="0.63"/><path d="M63.91,54.95 Q63.92,53.94 63.6,52.98" opacity="0.58"/><path d="M63.6,52.98 Q63.42,49.78 60.22,49.6" opacity="0.62"/><path d="M64.93,36.69 Q63.27,40.38 66.27,43.09" opacity="0.47"/><path d="M64.93,36.69 Q61.47,38.83 57.88,36.91" opacity="0.55"/><path d="M64.93,36.69 Q66.29,34.29 67.34,31.73" opacity="0.62"/><path d="M73.35,49.65 Q78.62,55.67 84.79,60.77" opacity="0.66"/><path d="M76.63,42.44 Q79.87,47.26 83.2,52.03" opacity="0.55"/><path d="M83.2,52.03 Q83.64,56.24 86.62,59.26" opacity="0.56"/><path d="M86.62,59.26 Q86.69,60.09 86.02,60.59" opacity="0.46"/><path d="M86.02,60.59 Q85.58,61.86 84.79,60.77" opacity="0.6"/><path d="M69.63,65.68 Q76.47,60.92 84.79,60.77" opacity="0.6"/><path d="M69.54,65.13 Q69.98,57.03 73.35,49.65" opacity="0.48"/><path d="M66.27,43.09 Q68.95,46.94 73.65,46.97" opacity="0.6"/><path d="M84.88,28.43 Q81.03,33.16 77.12,37.83" opacity="0.58"/><path d="M84.88,28.43 Q86.24,40.38 83.2,52.03" opacity="0.57"/><path d="M77.12,37.83 Q77.66,40.22 76.63,42.44" opacity="0.5"/><path d="M86.42,76.64 Q84.9,68.65 86.02,60.59" opacity="0.6"/><path d="M5.76,21.2 Q3.25,21.56 2.78,24.05" opacity="0.44"/><path d="M-4.08,28.15 Q-1.49,24.7 2.78,24.05" opacity="0.46"/><path d="M70.53,31.47 Q69.09,30.6 67.65,31.47" opacity="0.57"/><path d="M70.53,31.47 Q75.55,23.29 77.33,13.86" opacity="0.41"/><path d="M67.65,31.47 Q68.34,20.12 68.03,8.75" opacity="0.54"/><path d="M77.33,13.86 Q73.45,9.9 68.03,8.75" opacity="0.44"/><path d="M77.51,13.86 Q77.42,14.12 77.33,13.86" opacity="0.57"/><path d="M63.54,9.52 Q63.77,7.24 65.41,5.64" opacity="0.51"/><path d="M45.42,18.7 Q43.89,16.86 46.1,15.94" opacity="0.42"/><path d="M42.95,0.43 Q43.21,0.81 43.65,0.73" opacity="0.51"/><path d="M46.1,15.94 Q42.83,8.67 43.65,0.73" opacity="0.64"/><path d="M-4.41,37.15 Q-5.32,40.98 -3.72,44.58" opacity="0.61"/><path d="M-4.41,37.15 Q-5.4,35.43 -3.93,34.1" opacity="0.69"/><path d="M-3.93,34.1 Q-0.23,35.46 2.46,38.32" opacity="0.5"/><path d="M-3.72,44.58 Q-1.58,48.59 1.79,51.63" opacity="0.42"/><path d="M2.46,38.32 Q2.7,43.49 6.43,47.07" opacity="0.64"/><path d="M1.79,51.63 Q4.62,49.87 6.43,47.07" opacity="0.64"/><path d="M-4.08,28.15 Q-5.04,31.15 -3.93,34.1" opacity="0.4"/><path d="M2.78,24.05 Q3.76,31.21 2.46,38.32" opacity="0.47"/><path d="M13.45,44.07 Q9.39,44.28 6.43,47.07" opacity="0.64"/><path d="M51.19,-1.7 Q48.51,0.1 45.36,0.81" opacity="0.68"/><path d="M51.19,-1.7 Q51.11,1.54 54.25,2.34" opacity="0.49"/><path d="M45.36,0.81 Q46.17,6.9 49.66,11.96" opacity="0.44"/><path d="M52.08,12.87 Q50.15,14.33 49.66,11.96" opacity="0.53"/><path d="M43.65,0.73 Q44.42,2.8 45.36,0.81" opacity="0.47"/><path d="M65.4,5.57 Q60.23,2.56 54.25,2.34" opacity="0.68"/><path d="M46.1,15.94 Q46.87,13.04 49.66,11.96" opacity="0.69"/><path d="M53.97,18.21 Q51.32,16.14 52.08,12.87" opacity="0.47"/></g></g><line x1="5.9" y1="118.2" x2="14.2" y2="118.2" stroke="#cfcfcf" stroke-width="1.4"/><text x="94.1" y="10.1" font-size="9.6" font-weight="bold" font-style="italic" fill="#fff" textLength="19.3" lengthAdjust="spacingAndGlyphs">Nrtn</text><text x="112.8" y="6.8" font-size="5.6" font-weight="bold" font-style="italic" fill="#fff" textLength="6.4" lengthAdjust="spacingAndGlyphs">-/-</text><text x="97.6" y="109.4" font-size="10" font-weight="bold" fill="#e2312f" textLength="27.2" lengthAdjust="spacingAndGlyphs">Gfrα2</text><text x="99.6" y="122.1" font-size="10" font-weight="bold" fill="#5aaee6" textLength="25.2" lengthAdjust="spacingAndGlyphs">CD31</text></g></g>
<text x="12.1" y="19.4" font-size="12.6" font-weight="bold" fill="#111" textLength="11.2" lengthAdjust="spacingAndGlyphs" stroke="#111" stroke-width="0.45">A</text>
<text x="159.8" y="19.4" font-size="12.6" font-weight="bold" fill="#111" textLength="9.3" lengthAdjust="spacingAndGlyphs" stroke="#111" stroke-width="0.45">B</text>
<text x="12.9" y="188.8" font-size="12.6" font-weight="bold" fill="#111" textLength="10.4" lengthAdjust="spacingAndGlyphs" stroke="#111" stroke-width="0.45">D</text>
<text x="160.3" y="188.8" font-size="12.6" font-weight="bold" fill="#111" textLength="7.8" lengthAdjust="spacingAndGlyphs" stroke="#111" stroke-width="0.45">E</text>
<text x="304.2" y="19.6" font-size="12.6" font-weight="bold" fill="#111" textLength="9.3" lengthAdjust="spacingAndGlyphs" stroke="#111" stroke-width="0.45">C</text>
<line x1="344.5" y1="33.3" x2="344.5" y2="131.6" stroke="#1e1e1e" stroke-width="1.3"/>
<line x1="341.3" y1="131" x2="344.5" y2="131" stroke="#1e1e1e" stroke-width="1.1"/>
<text x="338.1" y="134.38" font-size="9.4" stroke="#1e1e1e" stroke-width="0.18" text-anchor="end">0.0</text>
<line x1="341.3" y1="112.1" x2="344.5" y2="112.1" stroke="#1e1e1e" stroke-width="1.1"/>
<text x="338.1" y="115.48" font-size="9.4" stroke="#1e1e1e" stroke-width="0.18" text-anchor="end">0.5</text>
<line x1="341.3" y1="93.2" x2="344.5" y2="93.2" stroke="#1e1e1e" stroke-width="1.1"/>
<text x="338.1" y="96.58" font-size="9.4" stroke="#1e1e1e" stroke-width="0.18" text-anchor="end">1.0</text>
<line x1="341.3" y1="74.3" x2="344.5" y2="74.3" stroke="#1e1e1e" stroke-width="1.1"/>
<text x="338.1" y="77.68" font-size="9.4" stroke="#1e1e1e" stroke-width="0.18" text-anchor="end">1.5</text>
<line x1="341.3" y1="55.4" x2="344.5" y2="55.4" stroke="#1e1e1e" stroke-width="1.1"/>
<text x="338.1" y="58.78" font-size="9.4" stroke="#1e1e1e" stroke-width="0.18" text-anchor="end">2.0</text>
<line x1="341.3" y1="36.5" x2="344.5" y2="36.5" stroke="#1e1e1e" stroke-width="1.1"/>
<text x="338.1" y="39.88" font-size="9.4" stroke="#1e1e1e" stroke-width="0.18" text-anchor="end">2.5</text>
<line x1="341.5" y1="131" x2="377.9" y2="131" stroke="#1e1e1e" stroke-width="1.4"/>
<line x1="353" y1="131" x2="353" y2="134.4" stroke="#1e1e1e" stroke-width="1.1"/>
<line x1="369.9" y1="131" x2="369.9" y2="134.4" stroke="#1e1e1e" stroke-width="1.1"/>
<line x1="353" y1="49.4" x2="353" y2="63" stroke="#2a2a2a" stroke-width="1.1"/>
<line x1="350.5" y1="49.4" x2="355.5" y2="49.4" stroke="#2a2a2a" stroke-width="1.3"/>
<line x1="369.9" y1="104.6" x2="369.9" y2="108.6" stroke="#2a2a2a" stroke-width="1.1"/>
<line x1="367.4" y1="104.6" x2="372.4" y2="104.6" stroke="#2a2a2a" stroke-width="1.3"/>
<rect x="347.3" y="63" width="11.3" height="68" fill="#512465"/>
<text x="352.95" y="125.6" font-size="8.3" text-anchor="middle" fill="#fff">4</text>
<rect x="364" y="108.6" width="11.9" height="22.4" fill="#6aa843"/>
<text x="369.95" y="125.6" font-size="8.3" text-anchor="middle" fill="#fff">6</text>
<path d="M352.5,42.7 V40.8 H370.4 V42.7" fill="none" stroke="#1e1e1e" stroke-width="1.2"/>
<text x="361.4" y="41.2" font-size="10" stroke="#1e1e1e" stroke-width="0.1" text-anchor="middle" letter-spacing="0.4">**</text>
<text x="341.2" y="29.5" font-size="8.21" stroke="#1e1e1e" stroke-width="0.18" textLength="42.7" lengthAdjust="spacingAndGlyphs">p = 0.0033</text>
<text x="314" y="146.2" font-size="9" stroke="#1e1e1e" stroke-width="0.18" font-style="italic" textLength="23.4" lengthAdjust="spacingAndGlyphs">Gfra2</text>
<text x="345.6" y="146.2" font-size="8.8" stroke="#1e1e1e" stroke-width="0.18" textLength="13.8" lengthAdjust="spacingAndGlyphs">+/+</text>
<text x="365.4" y="146.2" font-size="8.8" stroke="#1e1e1e" stroke-width="0.18" textLength="9.4" lengthAdjust="spacingAndGlyphs">-/-</text>
<text transform="translate(318.4,83.6) rotate(-90)" font-size="11" text-anchor="middle" stroke="#1e1e1e" stroke-width="0.2" textLength="69.6" lengthAdjust="spacingAndGlyphs">VAChT<tspan font-size="8.8" dy="-3.96">+</tspan><tspan dy="3.96"> </tspan>area (a.u)</text>
<text x="401.6" y="20.2" font-size="12.6" font-weight="bold" fill="#111" textLength="11.3" lengthAdjust="spacingAndGlyphs" stroke="#111" stroke-width="0.45">G</text>
<line x1="456.1" y1="34.1" x2="456.1" y2="131.6" stroke="#1e1e1e" stroke-width="1.3"/>
<line x1="452.9" y1="131" x2="456.1" y2="131" stroke="#1e1e1e" stroke-width="1.1"/>
<text x="448.7" y="134.38" font-size="9.4" stroke="#1e1e1e" stroke-width="0.18" text-anchor="end">0</text>
<line x1="452.9" y1="107.6" x2="456.1" y2="107.6" stroke="#1e1e1e" stroke-width="1.1"/>
<text x="448.7" y="110.98" font-size="9.4" stroke="#1e1e1e" stroke-width="0.18" text-anchor="end">0.002</text>
<line x1="452.9" y1="84.2" x2="456.1" y2="84.2" stroke="#1e1e1e" stroke-width="1.1"/>
<text x="448.7" y="87.58" font-size="9.4" stroke="#1e1e1e" stroke-width="0.18" text-anchor="end">0.004</text>
<line x1="452.9" y1="60.8" x2="456.1" y2="60.8" stroke="#1e1e1e" stroke-width="1.1"/>
<text x="448.7" y="64.18" font-size="9.4" stroke="#1e1e1e" stroke-width="0.18" text-anchor="end">0.006</text>
<line x1="452.9" y1="37.4" x2="456.1" y2="37.4" stroke="#1e1e1e" stroke-width="1.1"/>
<text x="448.7" y="40.78" font-size="9.4" stroke="#1e1e1e" stroke-width="0.18" text-anchor="end">0.008</text>
<line x1="452.3" y1="131" x2="505.8" y2="131" stroke="#1e1e1e" stroke-width="1.4"/>
<line x1="464.2" y1="131" x2="464.2" y2="134.4" stroke="#1e1e1e" stroke-width="1.1"/>
<line x1="480.5" y1="131" x2="480.5" y2="134.4" stroke="#1e1e1e" stroke-width="1.1"/>
<line x1="497" y1="131" x2="497" y2="134.4" stroke="#1e1e1e" stroke-width="1.1"/>
<line x1="464.2" y1="104.2" x2="464.2" y2="108.3" stroke="#2a2a2a" stroke-width="1.1"/>
<line x1="461.7" y1="104.2" x2="466.7" y2="104.2" stroke="#2a2a2a" stroke-width="1.3"/>
<line x1="497" y1="55.8" x2="497" y2="59.8" stroke="#2a2a2a" stroke-width="1.1"/>
<line x1="494.5" y1="55.8" x2="499.5" y2="55.8" stroke="#2a2a2a" stroke-width="1.3"/>
<rect x="458.6" y="108.3" width="11.2" height="22.7" fill="#512465"/>
<text x="464.2" y="125.6" font-size="8.3" text-anchor="middle" fill="#fff">8</text>
<text x="480.5" y="125.6" font-size="8.3" stroke="#1e1e1e" stroke-width="0.18" text-anchor="middle">5</text>
<rect x="491.2" y="59.8" width="11.1" height="71.2" fill="#abbb86"/>
<text x="496.75" y="125.6" font-size="8.3" text-anchor="middle" fill="#fff">4</text>
<path d="M463.6,36.4 V34.3 H499.8 V36.4" fill="none" stroke="#1e1e1e" stroke-width="1.2"/>
<text x="482" y="34.2" font-size="10" stroke="#1e1e1e" stroke-width="0.1" text-anchor="middle" letter-spacing="0.4">***</text>
<path d="M462.9,94.8 V92.3 H481.7 V94.8" fill="none" stroke="#1e1e1e" stroke-width="1.2"/>
<text x="472.4" y="93.3" font-size="10" stroke="#1e1e1e" stroke-width="0.1" text-anchor="middle" letter-spacing="0.4">***</text>
<text transform="translate(468.2,143.6) rotate(-45)" font-size="10" text-anchor="end" stroke="#1e1e1e" stroke-width="0.15">WT</text>
<text transform="translate(484.1,143.7) rotate(-45)" font-size="10" text-anchor="end" stroke="#1e1e1e" stroke-width="0.15" font-style="italic">Gfra2<tspan font-size="6.2" dy="-4" fill="#777" stroke="none">-/-</tspan></text>
<text transform="translate(500.5,143.7) rotate(-45)" font-size="10" text-anchor="end" stroke="#1e1e1e" stroke-width="0.15" font-style="italic">Nrtn<tspan font-size="6.2" dy="-4" fill="#777" stroke="none">-/-</tspan></text>
<text transform="translate(418.6,84.3) rotate(-90)" font-size="10.78" text-anchor="middle" stroke="#1e1e1e" stroke-width="0.2" textLength="72" lengthAdjust="spacingAndGlyphs"><tspan font-style="italic">Gfra2</tspan> mRNA (ΔCT)</text>
<text x="306.1" y="189.1" font-size="12.6" font-weight="bold" fill="#111" textLength="7.9" lengthAdjust="spacingAndGlyphs" stroke="#111" stroke-width="0.45">F</text>
<line x1="344.7" y1="200.8" x2="344.7" y2="299.6" stroke="#1e1e1e" stroke-width="1.3"/>
<line x1="341.5" y1="299.2" x2="344.7" y2="299.2" stroke="#1e1e1e" stroke-width="1.1"/>
<text x="338.8" y="302.58" font-size="9.4" stroke="#1e1e1e" stroke-width="0.18" text-anchor="end">0</text>
<line x1="341.5" y1="267.5" x2="344.7" y2="267.5" stroke="#1e1e1e" stroke-width="1.1"/>
<text x="338.8" y="270.88" font-size="9.4" stroke="#1e1e1e" stroke-width="0.18" text-anchor="end">1</text>
<line x1="341.5" y1="235.8" x2="344.7" y2="235.8" stroke="#1e1e1e" stroke-width="1.1"/>
<text x="338.8" y="239.18" font-size="9.4" stroke="#1e1e1e" stroke-width="0.18" text-anchor="end">2</text>
<line x1="341.5" y1="204.1" x2="344.7" y2="204.1" stroke="#1e1e1e" stroke-width="1.1"/>
<text x="338.8" y="207.48" font-size="9.4" stroke="#1e1e1e" stroke-width="0.18" text-anchor="end">3</text>
<line x1="341.3" y1="299" x2="379.4" y2="299" stroke="#1e1e1e" stroke-width="1.4"/>
<line x1="353" y1="299" x2="353" y2="302.4" stroke="#1e1e1e" stroke-width="1.1"/>
<line x1="370.8" y1="299" x2="370.8" y2="302.4" stroke="#1e1e1e" stroke-width="1.1"/>
<line x1="353" y1="257.9" x2="353" y2="264.2" stroke="#2a2a2a" stroke-width="1.1"/>
<line x1="350.5" y1="257.9" x2="355.5" y2="257.9" stroke="#2a2a2a" stroke-width="1.3"/>
<line x1="370.8" y1="223.3" x2="370.8" y2="231.6" stroke="#2a2a2a" stroke-width="1.1"/>
<line x1="368.3" y1="223.3" x2="373.3" y2="223.3" stroke="#2a2a2a" stroke-width="1.3"/>
<rect x="347.3" y="264.2" width="11.5" height="34.8" fill="#512465"/>
<text x="353.05" y="293.5" font-size="8.3" text-anchor="middle" fill="#fff">4</text>
<rect x="365" y="231.6" width="11.7" height="67.4" fill="#abbb86"/>
<text x="370.85" y="293.5" font-size="8.3" text-anchor="middle" fill="#fff">4</text>
<path d="M354.2,211 V208.8 H370.7 V211" fill="none" stroke="#1e1e1e" stroke-width="1.2"/>
<text x="362.5" y="209.6" font-size="10" stroke="#1e1e1e" stroke-width="0.1" text-anchor="middle" letter-spacing="0.4">*</text>
<text x="341" y="196.7" font-size="8.21" stroke="#1e1e1e" stroke-width="0.18" textLength="43" lengthAdjust="spacingAndGlyphs">p = 0.0173</text>
<text x="318.9" y="313.8" font-size="9" stroke="#1e1e1e" stroke-width="0.18" font-style="italic" textLength="18.8" lengthAdjust="spacingAndGlyphs">Nrtn</text>
<text x="346" y="313.8" font-size="8.8" stroke="#1e1e1e" stroke-width="0.18" textLength="14.8" lengthAdjust="spacingAndGlyphs">+/+</text>
<text x="366.1" y="313.8" font-size="8.8" stroke="#1e1e1e" stroke-width="0.18" textLength="9.8" lengthAdjust="spacingAndGlyphs">-/-</text>
<text transform="translate(325.6,251) rotate(-90)" font-size="11" text-anchor="middle" stroke="#1e1e1e" stroke-width="0.2" textLength="66.6" lengthAdjust="spacingAndGlyphs">Gfra2<tspan font-size="8.8" dy="-3.96">+</tspan><tspan dy="3.96"> </tspan>area (a.u)</text>
<text x="403" y="189.1" font-size="12.6" font-weight="bold" fill="#111" textLength="10.3" lengthAdjust="spacingAndGlyphs" stroke="#111" stroke-width="0.45">H</text>
<line x1="455.8" y1="201.9" x2="455.8" y2="299.6" stroke="#1e1e1e" stroke-width="1.3"/>
<line x1="452.6" y1="299" x2="455.8" y2="299" stroke="#1e1e1e" stroke-width="1.1"/>
<text x="448.7" y="302.38" font-size="9.4" stroke="#1e1e1e" stroke-width="0.18" text-anchor="end">0</text>
<line x1="452.6" y1="280.24" x2="455.8" y2="280.24" stroke="#1e1e1e" stroke-width="1.1"/>
<text x="448.7" y="283.62" font-size="9.4" stroke="#1e1e1e" stroke-width="0.18" text-anchor="end">0.0002</text>
<line x1="452.6" y1="261.48" x2="455.8" y2="261.48" stroke="#1e1e1e" stroke-width="1.1"/>
<text x="448.7" y="264.86" font-size="9.4" stroke="#1e1e1e" stroke-width="0.18" text-anchor="end">0.0004</text>
<line x1="452.6" y1="242.72" x2="455.8" y2="242.72" stroke="#1e1e1e" stroke-width="1.1"/>
<text x="448.7" y="246.1" font-size="9.4" stroke="#1e1e1e" stroke-width="0.18" text-anchor="end">0.0006</text>
<line x1="452.6" y1="223.96" x2="455.8" y2="223.96" stroke="#1e1e1e" stroke-width="1.1"/>
<text x="448.7" y="227.34" font-size="9.4" stroke="#1e1e1e" stroke-width="0.18" text-anchor="end">0.0008</text>
<line x1="452.6" y1="205.2" x2="455.8" y2="205.2" stroke="#1e1e1e" stroke-width="1.1"/>
<text x="448.7" y="208.58" font-size="9.4" stroke="#1e1e1e" stroke-width="0.18" text-anchor="end">0.0010</text>
<line x1="452.5" y1="299" x2="505.3" y2="299" stroke="#1e1e1e" stroke-width="1.4"/>
<line x1="463.9" y1="299" x2="463.9" y2="302.4" stroke="#1e1e1e" stroke-width="1.1"/>
<line x1="480.4" y1="299" x2="480.4" y2="302.4" stroke="#1e1e1e" stroke-width="1.1"/>
<line x1="496.9" y1="299" x2="496.9" y2="302.4" stroke="#1e1e1e" stroke-width="1.1"/>
<line x1="463.9" y1="251.2" x2="463.9" y2="257.9" stroke="#2a2a2a" stroke-width="1.1"/>
<line x1="461.4" y1="251.2" x2="466.4" y2="251.2" stroke="#2a2a2a" stroke-width="1.3"/>
<line x1="480.4" y1="208.8" x2="480.4" y2="221" stroke="#2a2a2a" stroke-width="1.1"/>
<line x1="477.9" y1="208.8" x2="482.9" y2="208.8" stroke="#2a2a2a" stroke-width="1.3"/>
<line x1="496.9" y1="293.7" x2="496.9" y2="295.2" stroke="#2a2a2a" stroke-width="1.1"/>
<line x1="494.6" y1="293.7" x2="499.2" y2="293.7" stroke="#2a2a2a" stroke-width="1.3"/>
<rect x="458.3" y="257.9" width="11.2" height="41.1" fill="#512465"/>
<text x="463.9" y="293.7" font-size="8.3" text-anchor="middle" fill="#fff">8</text>
<rect x="474.8" y="221" width="11.2" height="78" fill="#6aa843"/>
<text x="480.4" y="293.7" font-size="8.3" text-anchor="middle" fill="#fff">5</text>
<rect x="491.2" y="295.2" width="11.5" height="3.8" fill="#abbb86"/>
<text x="496.9" y="288.4" font-size="8.3" stroke="#1e1e1e" stroke-width="0.18" text-anchor="middle">4</text>
<path d="M462.9,201.3 V199.1 H499.6 V201.3" fill="none" stroke="#1e1e1e" stroke-width="1.2"/>
<text x="481.2" y="199.9" font-size="10" stroke="#1e1e1e" stroke-width="0.1" text-anchor="middle" letter-spacing="0.4">*</text>
<path d="M462.9,206 V203.7 H481.4 V206" fill="none" stroke="#1e1e1e" stroke-width="1.2"/>
<text transform="translate(467.9,311.6) rotate(-45)" font-size="10" text-anchor="end" stroke="#1e1e1e" stroke-width="0.15">WT</text>
<text transform="translate(484,311.7) rotate(-45)" font-size="10" text-anchor="end" stroke="#1e1e1e" stroke-width="0.15" font-style="italic">Gfra2<tspan font-size="6.2" dy="-4" fill="#777" stroke="none">-/-</tspan></text>
<text transform="translate(500.4,311.7) rotate(-45)" font-size="10" text-anchor="end" stroke="#1e1e1e" stroke-width="0.15" font-style="italic">Nrtn<tspan font-size="6.2" dy="-4" fill="#777" stroke="none">-/-</tspan></text>
<text transform="translate(413.2,251.9) rotate(-90)" font-size="10.78" text-anchor="middle" stroke="#1e1e1e" stroke-width="0.2" textLength="68" lengthAdjust="spacingAndGlyphs"><tspan font-style="italic">Nrtn</tspan> mRNA (ΔCT)</text>
<rect x="13.3" y="345.3" width="2.5" height="9.5" fill="#111"/>
<line x1="64" y1="379.8" x2="64" y2="473.2" stroke="#1e1e1e" stroke-width="1.3"/>
<line x1="60.8" y1="472.8" x2="64" y2="472.8" stroke="#1e1e1e" stroke-width="1.1"/>
<text x="57.7" y="476.18" font-size="9.4" stroke="#1e1e1e" stroke-width="0.18" text-anchor="end">0</text>
<line x1="60.8" y1="442.85" x2="64" y2="442.85" stroke="#1e1e1e" stroke-width="1.1"/>
<text x="57.7" y="446.23" font-size="9.4" stroke="#1e1e1e" stroke-width="0.18" text-anchor="end">0.5</text>
<line x1="60.8" y1="412.9" x2="64" y2="412.9" stroke="#1e1e1e" stroke-width="1.1"/>
<text x="57.7" y="416.28" font-size="9.4" stroke="#1e1e1e" stroke-width="0.18" text-anchor="end">1.0</text>
<line x1="60.8" y1="382.95" x2="64" y2="382.95" stroke="#1e1e1e" stroke-width="1.1"/>
<text x="57.7" y="386.33" font-size="9.4" stroke="#1e1e1e" stroke-width="0.18" text-anchor="end">1.5</text>
<line x1="60.3" y1="472.6" x2="114.8" y2="472.6" stroke="#1e1e1e" stroke-width="1.4"/>
<line x1="72.1" y1="472.6" x2="72.1" y2="476" stroke="#1e1e1e" stroke-width="1.1"/>
<line x1="88.9" y1="472.6" x2="88.9" y2="476" stroke="#1e1e1e" stroke-width="1.1"/>
<line x1="105.8" y1="472.6" x2="105.8" y2="476" stroke="#1e1e1e" stroke-width="1.1"/>
<line x1="72.2" y1="406.5" x2="72.2" y2="413.1" stroke="#2a2a2a" stroke-width="1.1"/>
<line x1="69.7" y1="406.5" x2="74.7" y2="406.5" stroke="#2a2a2a" stroke-width="1.3"/>
<line x1="89.1" y1="379.2" x2="89.1" y2="386.2" stroke="#2a2a2a" stroke-width="1.1"/>
<line x1="86.6" y1="379.2" x2="91.6" y2="379.2" stroke="#2a2a2a" stroke-width="1.3"/>
<line x1="106" y1="410.5" x2="106" y2="417.2" stroke="#2a2a2a" stroke-width="1.1"/>
<line x1="103.5" y1="410.5" x2="108.5" y2="410.5" stroke="#2a2a2a" stroke-width="1.3"/>
<rect x="66.4" y="413.1" width="11.5" height="59.5" fill="#512465"/>
<text x="72.15" y="467.3" font-size="8.3" text-anchor="middle" fill="#fff">13</text>
<rect x="83" y="386.2" width="12.1" height="86.4" fill="#6aa843"/>
<text x="89.05" y="467.3" font-size="8.3" text-anchor="middle" fill="#fff">6</text>
<rect x="100.1" y="417.2" width="11.7" height="55.4" fill="#abbb86"/>
<text x="105.95" y="467.3" font-size="8.3" text-anchor="middle" fill="#fff">9</text>
<path d="M71.1,362.1 V359.5 H108.5 V362.1" fill="none" stroke="#1e1e1e" stroke-width="1.2"/>
<text x="89.8" y="354.2" font-size="8.2" stroke="#1e1e1e" stroke-width="0.18" text-anchor="middle">ns</text>
<path d="M71.1,374.9 V372.3 H89.7 V374.9" fill="none" stroke="#1e1e1e" stroke-width="1.2"/>
<text x="80.5" y="373.5" font-size="10" stroke="#1e1e1e" stroke-width="0.1" text-anchor="middle" letter-spacing="0.4">*</text>
<text x="98.5" y="381.5" font-size="8.64" stroke="#1e1e1e" stroke-width="0.18" textLength="33.3" lengthAdjust="spacingAndGlyphs">p = 0.02</text>
<text transform="translate(76.1,485.2) rotate(-45)" font-size="10" text-anchor="end" stroke="#1e1e1e" stroke-width="0.15">WT</text>
<text transform="translate(92.5,485.3) rotate(-45)" font-size="10" text-anchor="end" stroke="#1e1e1e" stroke-width="0.15" font-style="italic">Gfra2<tspan font-size="6.2" dy="-4" fill="#777" stroke="none">-/-</tspan></text>
<text transform="translate(109.3,485.3) rotate(-45)" font-size="10" text-anchor="end" stroke="#1e1e1e" stroke-width="0.15" font-style="italic">Nrtn<tspan font-size="6.2" dy="-4" fill="#777" stroke="none">-/-</tspan></text>
<text transform="translate(37,427.8) rotate(-90)" font-size="11.22" text-anchor="middle" stroke="#1e1e1e" stroke-width="0.2" textLength="75.4" lengthAdjust="spacingAndGlyphs">WBCs (normalized)</text>
<text x="150.9" y="355" font-size="12.6" font-weight="bold" fill="#111" textLength="7" lengthAdjust="spacingAndGlyphs" stroke="#111" stroke-width="0.45">J</text>
<line x1="214.8" y1="374" x2="214.8" y2="473.4" stroke="#1e1e1e" stroke-width="1.3"/>
<line x1="211.6" y1="472.8" x2="214.8" y2="472.8" stroke="#1e1e1e" stroke-width="1.1"/>
<text x="208.6" y="476.18" font-size="9.4" stroke="#1e1e1e" stroke-width="0.18" text-anchor="end">0</text>
<line x1="211.6" y1="440.9" x2="214.8" y2="440.9" stroke="#1e1e1e" stroke-width="1.1"/>
<text x="208.6" y="444.28" font-size="9.4" stroke="#1e1e1e" stroke-width="0.18" text-anchor="end">0.002</text>
<line x1="211.6" y1="409" x2="214.8" y2="409" stroke="#1e1e1e" stroke-width="1.1"/>
<text x="208.6" y="412.38" font-size="9.4" stroke="#1e1e1e" stroke-width="0.18" text-anchor="end">0.004</text>
<line x1="211.6" y1="377.1" x2="214.8" y2="377.1" stroke="#1e1e1e" stroke-width="1.1"/>
<text x="208.6" y="380.48" font-size="9.4" stroke="#1e1e1e" stroke-width="0.18" text-anchor="end">0.006</text>
<line x1="211.5" y1="472.8" x2="249.2" y2="472.8" stroke="#1e1e1e" stroke-width="1.4"/>
<line x1="223.5" y1="472.8" x2="223.5" y2="476.2" stroke="#1e1e1e" stroke-width="1.1"/>
<line x1="240.3" y1="472.8" x2="240.3" y2="476.2" stroke="#1e1e1e" stroke-width="1.1"/>
<line x1="223.5" y1="388.1" x2="223.5" y2="412.7" stroke="#2a2a2a" stroke-width="1.1"/>
<line x1="221" y1="388.1" x2="226" y2="388.1" stroke="#2a2a2a" stroke-width="1.3"/>
<line x1="240.3" y1="456.9" x2="240.3" y2="458.9" stroke="#2a2a2a" stroke-width="1.1"/>
<line x1="237.8" y1="456.9" x2="242.8" y2="456.9" stroke="#2a2a2a" stroke-width="1.3"/>
<rect x="217.6" y="412.7" width="11.5" height="60.1" fill="#512465"/>
<text x="223.35" y="467.7" font-size="8.3" text-anchor="middle" fill="#fff">6</text>
<rect x="234.2" y="458.9" width="12" height="13.9" fill="#abbb86"/>
<text x="240.2" y="467.7" font-size="8.3" text-anchor="middle" fill="#fff">8</text>
<path d="M222.8,383.6 V381.3 H240.6 V383.6" fill="none" stroke="#1e1e1e" stroke-width="1.2"/>
<text x="231.7" y="381.9" font-size="10" stroke="#1e1e1e" stroke-width="0.1" text-anchor="middle" letter-spacing="0.4">*</text>
<text x="211.2" y="369.8" font-size="8.64" stroke="#1e1e1e" stroke-width="0.18" textLength="33.3" lengthAdjust="spacingAndGlyphs">p = 0.04</text>
<text x="189.2" y="487.7" font-size="9" stroke="#1e1e1e" stroke-width="0.18" font-style="italic" textLength="18.5" lengthAdjust="spacingAndGlyphs">Nrtn</text>
<text x="216" y="487.7" font-size="8.8" stroke="#1e1e1e" stroke-width="0.18" textLength="15" lengthAdjust="spacingAndGlyphs">+/+</text>
<text x="235.5" y="487.7" font-size="8.8" stroke="#1e1e1e" stroke-width="0.18" textLength="10" lengthAdjust="spacingAndGlyphs">-/-</text>
<text transform="translate(165.6,424.7) rotate(-90)" font-size="11.22" text-anchor="middle" stroke="#1e1e1e" stroke-width="0.2" textLength="52.5" lengthAdjust="spacingAndGlyphs"><tspan font-style="italic">Vcam1</tspan> mRNA</text>
<text transform="translate(177.4,425) rotate(-90)" font-size="11.22" text-anchor="middle" stroke="#1e1e1e" stroke-width="0.2" textLength="72" lengthAdjust="spacingAndGlyphs">(relative to <tspan font-style="italic">Gapdh</tspan>)</text>
<text x="267.1" y="354.6" font-size="12.6" font-weight="bold" fill="#111" textLength="10.4" lengthAdjust="spacingAndGlyphs" stroke="#111" stroke-width="0.45">K</text>
<line x1="333.6" y1="373.6" x2="333.6" y2="473.2" stroke="#1e1e1e" stroke-width="1.3"/>
<line x1="330.4" y1="472.6" x2="333.6" y2="472.6" stroke="#1e1e1e" stroke-width="1.1"/>
<text x="326.8" y="475.98" font-size="9.4" stroke="#1e1e1e" stroke-width="0.18" text-anchor="end">0</text>
<line x1="330.4" y1="440.7" x2="333.6" y2="440.7" stroke="#1e1e1e" stroke-width="1.1"/>
<text x="326.8" y="444.08" font-size="9.4" stroke="#1e1e1e" stroke-width="0.18" text-anchor="end">0.001</text>
<line x1="330.4" y1="408.8" x2="333.6" y2="408.8" stroke="#1e1e1e" stroke-width="1.1"/>
<text x="326.8" y="412.18" font-size="9.4" stroke="#1e1e1e" stroke-width="0.18" text-anchor="end">0.002</text>
<line x1="330.4" y1="376.9" x2="333.6" y2="376.9" stroke="#1e1e1e" stroke-width="1.1"/>
<text x="326.8" y="380.28" font-size="9.4" stroke="#1e1e1e" stroke-width="0.18" text-anchor="end">0.003</text>
<line x1="330" y1="472.5" x2="367.7" y2="472.5" stroke="#1e1e1e" stroke-width="1.4"/>
<line x1="342.3" y1="472.5" x2="342.3" y2="475.9" stroke="#1e1e1e" stroke-width="1.1"/>
<line x1="359.2" y1="472.5" x2="359.2" y2="475.9" stroke="#1e1e1e" stroke-width="1.1"/>
<line x1="342.5" y1="410.5" x2="342.5" y2="423.1" stroke="#2a2a2a" stroke-width="1.1"/>
<line x1="340" y1="410.5" x2="345" y2="410.5" stroke="#2a2a2a" stroke-width="1.3"/>
<line x1="359.3" y1="458.5" x2="359.3" y2="461.2" stroke="#2a2a2a" stroke-width="1.1"/>
<line x1="356.8" y1="458.5" x2="361.8" y2="458.5" stroke="#2a2a2a" stroke-width="1.3"/>
<rect x="336.6" y="423.1" width="11.4" height="49.4" fill="#512465"/>
<text x="342.3" y="469.2" font-size="8.3" text-anchor="middle" fill="#fff">7</text>
<rect x="353.5" y="461.2" width="11.9" height="11.3" fill="#abbb86"/>
<text x="359.45" y="469.2" font-size="8.3" text-anchor="middle" fill="#fff">9</text>
<path d="M341.7,383.7 V381.4 H359.8 V383.7" fill="none" stroke="#1e1e1e" stroke-width="1.2"/>
<text x="350.8" y="382.6" font-size="10" stroke="#1e1e1e" stroke-width="0.1" text-anchor="middle" letter-spacing="0.4">**</text>
<text x="328" y="365.6" font-size="8.64" stroke="#1e1e1e" stroke-width="0.18" textLength="38.2" lengthAdjust="spacingAndGlyphs">p = 0.006</text>
<text x="308.5" y="487.4" font-size="9" stroke="#1e1e1e" stroke-width="0.18" font-style="italic" textLength="18.6" lengthAdjust="spacingAndGlyphs">Nrtn</text>
<text x="335.2" y="487.4" font-size="8.8" stroke="#1e1e1e" stroke-width="0.18" textLength="15" lengthAdjust="spacingAndGlyphs">+/+</text>
<text x="354.4" y="487.4" font-size="8.8" stroke="#1e1e1e" stroke-width="0.18" textLength="9.6" lengthAdjust="spacingAndGlyphs">-/-</text>
<text transform="translate(284,425.3) rotate(-90)" font-size="11.22" text-anchor="middle" stroke="#1e1e1e" stroke-width="0.2" textLength="44.9" lengthAdjust="spacingAndGlyphs"><tspan font-style="italic">Sele</tspan> mRNA</text>
<text transform="translate(296.6,425) rotate(-90)" font-size="11.22" text-anchor="middle" stroke="#1e1e1e" stroke-width="0.2" textLength="72" lengthAdjust="spacingAndGlyphs">(relative to <tspan font-style="italic">Gapdh</tspan>)</text>
<text x="386.7" y="354.6" font-size="12.6" font-weight="bold" fill="#111" textLength="6.9" lengthAdjust="spacingAndGlyphs" stroke="#111" stroke-width="0.45">L</text>
<line x1="462.1" y1="373.5" x2="462.1" y2="473.4" stroke="#1e1e1e" stroke-width="1.3"/>
<line x1="458.9" y1="472.7" x2="462.1" y2="472.7" stroke="#1e1e1e" stroke-width="1.1"/>
<text x="454.6" y="476.08" font-size="9.4" stroke="#1e1e1e" stroke-width="0.18" text-anchor="end">0</text>
<line x1="458.9" y1="440.8" x2="462.1" y2="440.8" stroke="#1e1e1e" stroke-width="1.1"/>
<text x="454.6" y="444.18" font-size="9.4" stroke="#1e1e1e" stroke-width="0.18" text-anchor="end">0.001</text>
<line x1="458.9" y1="408.9" x2="462.1" y2="408.9" stroke="#1e1e1e" stroke-width="1.1"/>
<text x="454.6" y="412.28" font-size="9.4" stroke="#1e1e1e" stroke-width="0.18" text-anchor="end">0.002</text>
<line x1="458.9" y1="377" x2="462.1" y2="377" stroke="#1e1e1e" stroke-width="1.1"/>
<text x="454.6" y="380.38" font-size="9.4" stroke="#1e1e1e" stroke-width="0.18" text-anchor="end">0.003</text>
<line x1="458.8" y1="472.8" x2="512" y2="472.8" stroke="#1e1e1e" stroke-width="1.4"/>
<line x1="470" y1="472.8" x2="470" y2="476.2" stroke="#1e1e1e" stroke-width="1.1"/>
<line x1="486.4" y1="472.8" x2="486.4" y2="476.2" stroke="#1e1e1e" stroke-width="1.1"/>
<line x1="503" y1="472.8" x2="503" y2="476.2" stroke="#1e1e1e" stroke-width="1.1"/>
<line x1="470" y1="405.3" x2="470" y2="409.4" stroke="#2a2a2a" stroke-width="1.1"/>
<line x1="467.5" y1="405.3" x2="472.5" y2="405.3" stroke="#2a2a2a" stroke-width="1.3"/>
<line x1="486.5" y1="384.1" x2="486.5" y2="389" stroke="#2a2a2a" stroke-width="1.1"/>
<line x1="484" y1="384.1" x2="489" y2="384.1" stroke="#2a2a2a" stroke-width="1.3"/>
<line x1="503" y1="421.9" x2="503" y2="424" stroke="#2a2a2a" stroke-width="1.1"/>
<line x1="500.5" y1="421.9" x2="505.5" y2="421.9" stroke="#2a2a2a" stroke-width="1.3"/>
<rect x="464.4" y="409.4" width="11.2" height="63.4" fill="#512465"/>
<text x="470" y="469.4" font-size="8.3" text-anchor="middle" fill="#fff">7</text>
<rect x="481" y="389" width="10.9" height="83.8" fill="#6aa843"/>
<text x="486.45" y="469.4" font-size="8.3" text-anchor="middle" fill="#fff">4</text>
<rect x="497.3" y="424" width="11.5" height="48.8" fill="#abbb86"/>
<text x="503.05" y="469.4" font-size="8.3" text-anchor="middle" fill="#fff">5</text>
<path d="M468.1,363.2 V360.7 H504.6 V363.2" fill="none" stroke="#1e1e1e" stroke-width="1.2"/>
<text x="486.5" y="361.4" font-size="10" stroke="#1e1e1e" stroke-width="0.1" text-anchor="middle" letter-spacing="0.4">*</text>
<path d="M468.1,376.4 V374.1 H486.3 V376.4" fill="none" stroke="#1e1e1e" stroke-width="1.2"/>
<text x="476.6" y="374.3" font-size="10" stroke="#1e1e1e" stroke-width="0.1" text-anchor="middle" letter-spacing="0.4">*</text>
<text x="414.2" y="365.8" font-size="8.86" stroke="#1e1e1e" stroke-width="0.18" textLength="46.2" lengthAdjust="spacingAndGlyphs">p = 0.0005</text>
<text transform="translate(474,485.4) rotate(-45)" font-size="10" text-anchor="end" stroke="#1e1e1e" stroke-width="0.15">WT</text>
<text transform="translate(490,485.5) rotate(-45)" font-size="10" text-anchor="end" stroke="#1e1e1e" stroke-width="0.15" font-style="italic">Gfra2<tspan font-size="6.2" dy="-4" fill="#777" stroke="none">-/-</tspan></text>
<text transform="translate(506.5,485.5) rotate(-45)" font-size="10" text-anchor="end" stroke="#1e1e1e" stroke-width="0.15" font-style="italic">Nrtn<tspan font-size="6.2" dy="-4" fill="#777" stroke="none">-/-</tspan></text>
<text transform="translate(411.6,423.8) rotate(-90)" font-size="11" text-anchor="middle" stroke="#1e1e1e" stroke-width="0.2" textLength="62.8" lengthAdjust="spacingAndGlyphs">lin<tspan font-size="8.8" dy="-3.96">-</tspan><tspan dy="3.96"> </tspan>sca-1<tspan font-size="8.8" dy="-3.96">+</tspan><tspan dy="3.96"> </tspan>c-kit<tspan font-size="8.8" dy="-3.96">+</tspan><tspan dy="3.96"></tspan></text>
<text transform="translate(424.4,423.6) rotate(-90)" font-size="11" text-anchor="middle" stroke="#1e1e1e" stroke-width="0.2" textLength="56.2" lengthAdjust="spacingAndGlyphs">donor cells (%)</text>
<text x="8.3" y="536.8" font-size="12.6" font-weight="bold" fill="#111" textLength="12.6" lengthAdjust="spacingAndGlyphs" stroke="#111" stroke-width="0.45">M</text>
<line x1="63.6" y1="551.2" x2="63.6" y2="650.5" stroke="#1e1e1e" stroke-width="1.3"/>
<line x1="60.4" y1="649.8" x2="63.6" y2="649.8" stroke="#1e1e1e" stroke-width="1.1"/>
<text x="57" y="653.18" font-size="9.4" stroke="#1e1e1e" stroke-width="0.18" text-anchor="end">0</text>
<line x1="60.4" y1="617.9" x2="63.6" y2="617.9" stroke="#1e1e1e" stroke-width="1.1"/>
<text x="57" y="621.28" font-size="9.4" stroke="#1e1e1e" stroke-width="0.18" text-anchor="end">0.5</text>
<line x1="60.4" y1="586" x2="63.6" y2="586" stroke="#1e1e1e" stroke-width="1.1"/>
<text x="57" y="589.38" font-size="9.4" stroke="#1e1e1e" stroke-width="0.18" text-anchor="end">1.0</text>
<line x1="60.4" y1="554.1" x2="63.6" y2="554.1" stroke="#1e1e1e" stroke-width="1.1"/>
<text x="57" y="557.48" font-size="9.4" stroke="#1e1e1e" stroke-width="0.18" text-anchor="end">1.5</text>
<line x1="60.4" y1="649.9" x2="131.9" y2="649.9" stroke="#1e1e1e" stroke-width="1.4"/>
<line x1="72.3" y1="649.9" x2="72.3" y2="653.3" stroke="#1e1e1e" stroke-width="1.1"/>
<line x1="89.1" y1="649.9" x2="89.1" y2="653.3" stroke="#1e1e1e" stroke-width="1.1"/>
<line x1="106" y1="649.9" x2="106" y2="653.3" stroke="#1e1e1e" stroke-width="1.1"/>
<line x1="123.4" y1="649.9" x2="123.4" y2="653.3" stroke="#1e1e1e" stroke-width="1.1"/>
<line x1="72.3" y1="569.2" x2="72.3" y2="585.7" stroke="#2a2a2a" stroke-width="1.1"/>
<line x1="69.8" y1="569.2" x2="74.8" y2="569.2" stroke="#2a2a2a" stroke-width="1.3"/>
<line x1="89.1" y1="575.1" x2="89.1" y2="587.2" stroke="#2a2a2a" stroke-width="1.1"/>
<line x1="86.6" y1="575.1" x2="91.6" y2="575.1" stroke="#2a2a2a" stroke-width="1.3"/>
<line x1="106" y1="630.4" x2="106" y2="633.5" stroke="#2a2a2a" stroke-width="1.1"/>
<line x1="103.5" y1="630.4" x2="108.5" y2="630.4" stroke="#2a2a2a" stroke-width="1.3"/>
<line x1="123.4" y1="612.7" x2="123.4" y2="616.2" stroke="#2a2a2a" stroke-width="1.1"/>
<line x1="120.9" y1="612.7" x2="125.9" y2="612.7" stroke="#2a2a2a" stroke-width="1.3"/>
<rect x="66.5" y="585.7" width="11.6" height="64.2" fill="#512465"/>
<text x="72.3" y="647.5" font-size="7.6" text-anchor="middle" fill="#fff">5</text>
<rect x="83.2" y="587.2" width="11.8" height="62.7" fill="#94bd6a"/>
<text x="89.1" y="647.5" font-size="7.6" text-anchor="middle" fill="#fff">5</text>
<rect x="100.1" y="633.5" width="11.8" height="16.4" fill="#6aa843"/>
<text x="106" y="647.5" font-size="7.6" text-anchor="middle" fill="#fff">5</text>
<rect x="117.6" y="616.2" width="11.7" height="33.7" fill="#2c4a83"/>
<text x="123.45" y="647.5" font-size="7.6" text-anchor="middle" fill="#fff">5</text>
<path d="M72,549.7 V547 H124.3 V549.7" fill="none" stroke="#1e1e1e" stroke-width="1.2"/>
<text x="97.7" y="547.9" font-size="10" stroke="#1e1e1e" stroke-width="0.1" text-anchor="middle" letter-spacing="0.4">*</text>
<path d="M72,561.6 V558.9 H106.2 V561.6" fill="none" stroke="#1e1e1e" stroke-width="1.2"/>
<text x="88.9" y="559.9" font-size="10" stroke="#1e1e1e" stroke-width="0.1" text-anchor="middle" letter-spacing="0.4">*</text>
<text x="27.7" y="545" font-size="8.64" stroke="#1e1e1e" stroke-width="0.18" textLength="38" lengthAdjust="spacingAndGlyphs">p = 0.014</text>
<text transform="translate(38,600.8) rotate(-90)" font-size="11.22" text-anchor="middle" stroke="#1e1e1e" stroke-width="0.2" textLength="70.7" lengthAdjust="spacingAndGlyphs">CFU-C fold change</text>
<text x="58.1" y="664.8" font-size="9" stroke="#1e1e1e" stroke-width="0.18" text-anchor="end" textLength="23.4" lengthAdjust="spacingAndGlyphs">saline</text>
<text x="72.3" y="664.5" font-size="9.4" stroke="#1e1e1e" stroke-width="0.18" text-anchor="middle">+</text>
<text x="89.1" y="664.2" font-size="9.4" stroke="#1e1e1e" stroke-width="0.18" text-anchor="middle">-</text>
<text x="106" y="664.2" font-size="9.4" stroke="#1e1e1e" stroke-width="0.18" text-anchor="middle">-</text>
<text x="123.4" y="664.2" font-size="9.4" stroke="#1e1e1e" stroke-width="0.18" text-anchor="middle">-</text>
<text x="8.5" y="676.9" font-size="9" stroke="#1e1e1e" stroke-width="0.18" textLength="53.4" lengthAdjust="spacingAndGlyphs">β<tspan font-size="6.48" dy="2">2</tspan><tspan dy="-2">-AR antag.</tspan></text>
<text x="72.3" y="676.3" font-size="9.4" stroke="#1e1e1e" stroke-width="0.18" text-anchor="middle">-</text>
<text x="89.1" y="676.6" font-size="9.4" stroke="#1e1e1e" stroke-width="0.18" text-anchor="middle">+</text>
<text x="106" y="676.3" font-size="9.4" stroke="#1e1e1e" stroke-width="0.18" text-anchor="middle">-</text>
<text x="123.4" y="676.3" font-size="9.4" stroke="#1e1e1e" stroke-width="0.18" text-anchor="middle">-</text>
<text x="8.5" y="688.8" font-size="9" stroke="#1e1e1e" stroke-width="0.18" textLength="53.4" lengthAdjust="spacingAndGlyphs">β<tspan font-size="6.48" dy="2">3</tspan><tspan dy="-2">-AR antag.</tspan></text>
<text x="72.3" y="688.2" font-size="9.4" stroke="#1e1e1e" stroke-width="0.18" text-anchor="middle">-</text>
<text x="89.1" y="688.2" font-size="9.4" stroke="#1e1e1e" stroke-width="0.18" text-anchor="middle">-</text>
<text x="106" y="688.5" font-size="9.4" stroke="#1e1e1e" stroke-width="0.18" text-anchor="middle">+</text>
<text x="123.4" y="688.2" font-size="9.4" stroke="#1e1e1e" stroke-width="0.18" text-anchor="middle">-</text>
<text x="12.8" y="700.5" font-size="9" stroke="#1e1e1e" stroke-width="0.18" textLength="49" lengthAdjust="spacingAndGlyphs">Chrn antag.</text>
<text x="72.3" y="699.9" font-size="9.4" stroke="#1e1e1e" stroke-width="0.18" text-anchor="middle">-</text>
<text x="89.1" y="699.9" font-size="9.4" stroke="#1e1e1e" stroke-width="0.18" text-anchor="middle">-</text>
<text x="106" y="699.9" font-size="9.4" stroke="#1e1e1e" stroke-width="0.18" text-anchor="middle">-</text>
<text x="123.4" y="700.2" font-size="9.4" stroke="#1e1e1e" stroke-width="0.18" text-anchor="middle">+</text>
<text x="148.6" y="537.1" font-size="12.6" font-weight="bold" fill="#111" textLength="11.2" lengthAdjust="spacingAndGlyphs" stroke="#111" stroke-width="0.45">N</text>
<line x1="223.3" y1="551.1" x2="223.3" y2="650.2" stroke="#1e1e1e" stroke-width="1.3"/>
<line x1="220.1" y1="649.6" x2="223.3" y2="649.6" stroke="#1e1e1e" stroke-width="1.1"/>
<text x="216.1" y="652.98" font-size="9.4" stroke="#1e1e1e" stroke-width="0.18" text-anchor="end">0</text>
<line x1="220.1" y1="630.45" x2="223.3" y2="630.45" stroke="#1e1e1e" stroke-width="1.1"/>
<text x="216.1" y="633.83" font-size="9.4" stroke="#1e1e1e" stroke-width="0.18" text-anchor="end">0.001</text>
<line x1="220.1" y1="611.3" x2="223.3" y2="611.3" stroke="#1e1e1e" stroke-width="1.1"/>
<text x="216.1" y="614.68" font-size="9.4" stroke="#1e1e1e" stroke-width="0.18" text-anchor="end">0.002</text>
<line x1="220.1" y1="592.15" x2="223.3" y2="592.15" stroke="#1e1e1e" stroke-width="1.1"/>
<text x="216.1" y="595.53" font-size="9.4" stroke="#1e1e1e" stroke-width="0.18" text-anchor="end">0.003</text>
<line x1="220.1" y1="573" x2="223.3" y2="573" stroke="#1e1e1e" stroke-width="1.1"/>
<text x="216.1" y="576.38" font-size="9.4" stroke="#1e1e1e" stroke-width="0.18" text-anchor="end">0.004</text>
<line x1="220.1" y1="553.85" x2="223.3" y2="553.85" stroke="#1e1e1e" stroke-width="1.1"/>
<text x="216.1" y="557.23" font-size="9.4" stroke="#1e1e1e" stroke-width="0.18" text-anchor="end">0.005</text>
<line x1="220.4" y1="649.6" x2="291.2" y2="649.6" stroke="#1e1e1e" stroke-width="1.4"/>
<line x1="231.8" y1="649.6" x2="231.8" y2="653" stroke="#1e1e1e" stroke-width="1.1"/>
<line x1="248.7" y1="649.6" x2="248.7" y2="653" stroke="#1e1e1e" stroke-width="1.1"/>
<line x1="265.6" y1="649.6" x2="265.6" y2="653" stroke="#1e1e1e" stroke-width="1.1"/>
<line x1="283" y1="649.6" x2="283" y2="653" stroke="#1e1e1e" stroke-width="1.1"/>
<line x1="231.8" y1="623.8" x2="231.8" y2="628" stroke="#2a2a2a" stroke-width="1.1"/>
<line x1="229.3" y1="623.8" x2="234.3" y2="623.8" stroke="#2a2a2a" stroke-width="1.3"/>
<line x1="248.7" y1="607.4" x2="248.7" y2="613.8" stroke="#2a2a2a" stroke-width="1.1"/>
<line x1="246.2" y1="607.4" x2="251.2" y2="607.4" stroke="#2a2a2a" stroke-width="1.3"/>
<line x1="265.5" y1="569.2" x2="265.5" y2="580" stroke="#2a2a2a" stroke-width="1.1"/>
<line x1="263" y1="569.2" x2="268" y2="569.2" stroke="#2a2a2a" stroke-width="1.3"/>
<line x1="283" y1="576.9" x2="283" y2="585.7" stroke="#2a2a2a" stroke-width="1.1"/>
<line x1="280.5" y1="576.9" x2="285.5" y2="576.9" stroke="#2a2a2a" stroke-width="1.3"/>
<rect x="225.8" y="628" width="12" height="21.6" fill="#512465"/>
<text x="231.8" y="647.5" font-size="7.6" text-anchor="middle" fill="#fff">5</text>
<rect x="242.7" y="613.8" width="12" height="35.8" fill="#94bd6a"/>
<text x="248.7" y="647.5" font-size="7.6" text-anchor="middle" fill="#fff">5</text>
<rect x="259.6" y="580" width="11.8" height="69.6" fill="#6aa843"/>
<text x="265.5" y="647.5" font-size="7.6" text-anchor="middle" fill="#fff">5</text>
<rect x="277.2" y="585.7" width="11.4" height="63.9" fill="#2c4a83"/>
<text x="282.9" y="647.5" font-size="7.6" text-anchor="middle" fill="#fff">5</text>
<path d="M231.6,561.7 V559.3 H283.5 V561.7 M265.5,559.3 V561.7" fill="none" stroke="#1e1e1e" stroke-width="1.2"/>
<text x="256.2" y="560.3" font-size="10" stroke="#1e1e1e" stroke-width="0.1" text-anchor="middle" letter-spacing="0.4">**</text>
<path d="M231.6,604.1 V601.6 H248.5 V604.1" fill="none" stroke="#1e1e1e" stroke-width="1.2"/>
<text x="240" y="598.5" font-size="8.2" stroke="#1e1e1e" stroke-width="0.18" text-anchor="middle">ns</text>
<text x="187.8" y="543.5" font-size="8.64" stroke="#1e1e1e" stroke-width="0.18" textLength="37.1" lengthAdjust="spacingAndGlyphs">p = 0.001</text>
<text transform="translate(173.4,599.9) rotate(-90)" font-size="11.22" text-anchor="middle" stroke="#1e1e1e" stroke-width="0.2" textLength="54" lengthAdjust="spacingAndGlyphs"><tspan font-style="italic">Vcam1</tspan> mRNA</text>
<text transform="translate(185.7,600.4) rotate(-90)" font-size="11.22" text-anchor="middle" stroke="#1e1e1e" stroke-width="0.2" textLength="73.5" lengthAdjust="spacingAndGlyphs">(relative to <tspan font-style="italic">Gapdh</tspan>)</text>
<text x="218" y="664.8" font-size="9" stroke="#1e1e1e" stroke-width="0.18" text-anchor="end" textLength="23.4" lengthAdjust="spacingAndGlyphs">saline</text>
<text x="231.4" y="664.5" font-size="9.4" stroke="#1e1e1e" stroke-width="0.18" text-anchor="middle">+</text>
<text x="248.9" y="664.2" font-size="9.4" stroke="#1e1e1e" stroke-width="0.18" text-anchor="middle">-</text>
<text x="265.8" y="664.2" font-size="9.4" stroke="#1e1e1e" stroke-width="0.18" text-anchor="middle">-</text>
<text x="283" y="664.2" font-size="9.4" stroke="#1e1e1e" stroke-width="0.18" text-anchor="middle">-</text>
<text x="168.4" y="676.9" font-size="9" stroke="#1e1e1e" stroke-width="0.18" textLength="53.4" lengthAdjust="spacingAndGlyphs">β<tspan font-size="6.48" dy="2">2</tspan><tspan dy="-2">-AR antag.</tspan></text>
<text x="231.4" y="676.3" font-size="9.4" stroke="#1e1e1e" stroke-width="0.18" text-anchor="middle">-</text>
<text x="248.9" y="676.6" font-size="9.4" stroke="#1e1e1e" stroke-width="0.18" text-anchor="middle">+</text>
<text x="265.8" y="676.3" font-size="9.4" stroke="#1e1e1e" stroke-width="0.18" text-anchor="middle">-</text>
<text x="283" y="676.3" font-size="9.4" stroke="#1e1e1e" stroke-width="0.18" text-anchor="middle">-</text>
<text x="168.4" y="688.5" font-size="9" stroke="#1e1e1e" stroke-width="0.18" textLength="53.4" lengthAdjust="spacingAndGlyphs">β<tspan font-size="6.48" dy="2">3</tspan><tspan dy="-2">-AR antag.</tspan></text>
<text x="231.4" y="687.9" font-size="9.4" stroke="#1e1e1e" stroke-width="0.18" text-anchor="middle">-</text>
<text x="248.9" y="687.9" font-size="9.4" stroke="#1e1e1e" stroke-width="0.18" text-anchor="middle">-</text>
<text x="265.8" y="688.2" font-size="9.4" stroke="#1e1e1e" stroke-width="0.18" text-anchor="middle">+</text>
<text x="283" y="687.9" font-size="9.4" stroke="#1e1e1e" stroke-width="0.18" text-anchor="middle">-</text>
<text x="172.7" y="700.6" font-size="9" stroke="#1e1e1e" stroke-width="0.18" textLength="49" lengthAdjust="spacingAndGlyphs">Chrn antag.</text>
<text x="231.4" y="700" font-size="9.4" stroke="#1e1e1e" stroke-width="0.18" text-anchor="middle">-</text>
<text x="248.9" y="700" font-size="9.4" stroke="#1e1e1e" stroke-width="0.18" text-anchor="middle">-</text>
<text x="265.8" y="700" font-size="9.4" stroke="#1e1e1e" stroke-width="0.18" text-anchor="middle">-</text>
<text x="283" y="700.3" font-size="9.4" stroke="#1e1e1e" stroke-width="0.18" text-anchor="middle">+</text>
<circle cx="314.6" cy="532.6" r="3.9" fill="none" stroke="#111" stroke-width="2.2"/>
<line x1="377.8" y1="551.5" x2="377.8" y2="650" stroke="#1e1e1e" stroke-width="1.3"/>
<line x1="374.6" y1="649.4" x2="377.8" y2="649.4" stroke="#1e1e1e" stroke-width="1.1"/>
<text x="370.6" y="652.78" font-size="9.4" stroke="#1e1e1e" stroke-width="0.18" text-anchor="end">0</text>
<line x1="374.6" y1="625.55" x2="377.8" y2="625.55" stroke="#1e1e1e" stroke-width="1.1"/>
<text x="370.6" y="628.93" font-size="9.4" stroke="#1e1e1e" stroke-width="0.18" text-anchor="end">0.002</text>
<line x1="374.6" y1="601.7" x2="377.8" y2="601.7" stroke="#1e1e1e" stroke-width="1.1"/>
<text x="370.6" y="605.08" font-size="9.4" stroke="#1e1e1e" stroke-width="0.18" text-anchor="end">0.004</text>
<line x1="374.6" y1="577.85" x2="377.8" y2="577.85" stroke="#1e1e1e" stroke-width="1.1"/>
<text x="370.6" y="581.23" font-size="9.4" stroke="#1e1e1e" stroke-width="0.18" text-anchor="end">0.006</text>
<line x1="374.6" y1="554" x2="377.8" y2="554" stroke="#1e1e1e" stroke-width="1.1"/>
<text x="370.6" y="557.38" font-size="9.4" stroke="#1e1e1e" stroke-width="0.18" text-anchor="end">0.008</text>
<line x1="373.8" y1="649.3" x2="445.7" y2="649.3" stroke="#1e1e1e" stroke-width="1.4"/>
<line x1="385.9" y1="649.3" x2="385.9" y2="652.7" stroke="#1e1e1e" stroke-width="1.1"/>
<line x1="402.8" y1="649.3" x2="402.8" y2="652.7" stroke="#1e1e1e" stroke-width="1.1"/>
<line x1="419.8" y1="649.3" x2="419.8" y2="652.7" stroke="#1e1e1e" stroke-width="1.1"/>
<line x1="437.1" y1="649.3" x2="437.1" y2="652.7" stroke="#1e1e1e" stroke-width="1.1"/>
<line x1="385.9" y1="636.9" x2="385.9" y2="640" stroke="#2a2a2a" stroke-width="1.1"/>
<line x1="383.4" y1="636.9" x2="388.4" y2="636.9" stroke="#2a2a2a" stroke-width="1.3"/>
<line x1="402.8" y1="626.9" x2="402.8" y2="632" stroke="#2a2a2a" stroke-width="1.1"/>
<line x1="400.3" y1="626.9" x2="405.3" y2="626.9" stroke="#2a2a2a" stroke-width="1.3"/>
<line x1="419.8" y1="599.5" x2="419.8" y2="604.3" stroke="#2a2a2a" stroke-width="1.1"/>
<line x1="417.3" y1="599.5" x2="422.3" y2="599.5" stroke="#2a2a2a" stroke-width="1.3"/>
<line x1="437.1" y1="578.5" x2="437.1" y2="586.6" stroke="#2a2a2a" stroke-width="1.1"/>
<line x1="434.6" y1="578.5" x2="439.6" y2="578.5" stroke="#2a2a2a" stroke-width="1.3"/>
<rect x="380" y="640" width="11.8" height="9.3" fill="#512465"/>
<text x="385.9" y="647.5" font-size="7.6" text-anchor="middle" fill="#fff">5</text>
<rect x="396.9" y="632" width="11.9" height="17.3" fill="#94bd6a"/>
<text x="402.85" y="647.5" font-size="7.6" text-anchor="middle" fill="#fff">5</text>
<rect x="413.8" y="604.3" width="11.9" height="45" fill="#6aa843"/>
<text x="419.75" y="647.5" font-size="7.6" text-anchor="middle" fill="#fff">5</text>
<rect x="431.2" y="586.6" width="11.8" height="62.7" fill="#2c4a83"/>
<text x="437.1" y="647.5" font-size="7.6" text-anchor="middle" fill="#fff">5</text>
<path d="M385.5,549.5 V546.7 H437.6 V549.5" fill="none" stroke="#1e1e1e" stroke-width="1.2"/>
<text x="412.3" y="547.3" font-size="10" stroke="#1e1e1e" stroke-width="0.1" text-anchor="middle" letter-spacing="0.4">***</text>
<path d="M385.5,561.6 V559 H420.4 V561.6" fill="none" stroke="#1e1e1e" stroke-width="1.2"/>
<text x="403" y="559.9" font-size="10" stroke="#1e1e1e" stroke-width="0.1" text-anchor="middle" letter-spacing="0.4">**</text>
<path d="M385.4,603.6 V601.2 H402.8 V603.6" fill="none" stroke="#1e1e1e" stroke-width="1.2"/>
<text x="394.7" y="598.5" font-size="8.2" stroke="#1e1e1e" stroke-width="0.18" text-anchor="middle">ns</text>
<text x="345.5" y="543.5" font-size="8.64" stroke="#1e1e1e" stroke-width="0.18" textLength="42.3" lengthAdjust="spacingAndGlyphs">p &lt; 0.0001</text>
<text transform="translate(327.4,600.3) rotate(-90)" font-size="11.22" text-anchor="middle" stroke="#1e1e1e" stroke-width="0.2" textLength="43.9" lengthAdjust="spacingAndGlyphs"><tspan font-style="italic">Sele</tspan> mRNA</text>
<text transform="translate(340,600.5) rotate(-90)" font-size="11.22" text-anchor="middle" stroke="#1e1e1e" stroke-width="0.2" textLength="72.2" lengthAdjust="spacingAndGlyphs">(relative to <tspan font-style="italic">Gapdh</tspan>)</text>
<text x="371.8" y="664.4" font-size="9" stroke="#1e1e1e" stroke-width="0.18" text-anchor="end" textLength="23.4" lengthAdjust="spacingAndGlyphs">saline</text>
<text x="385.9" y="664.1" font-size="9.4" stroke="#1e1e1e" stroke-width="0.18" text-anchor="middle">+</text>
<text x="402.8" y="663.8" font-size="9.4" stroke="#1e1e1e" stroke-width="0.18" text-anchor="middle">-</text>
<text x="419.8" y="663.8" font-size="9.4" stroke="#1e1e1e" stroke-width="0.18" text-anchor="middle">-</text>
<text x="437.1" y="663.8" font-size="9.4" stroke="#1e1e1e" stroke-width="0.18" text-anchor="middle">-</text>
<text x="322.2" y="676" font-size="9" stroke="#1e1e1e" stroke-width="0.18" textLength="53.4" lengthAdjust="spacingAndGlyphs">β<tspan font-size="6.48" dy="2">2</tspan><tspan dy="-2">-AR antag.</tspan></text>
<text x="385.9" y="675.4" font-size="9.4" stroke="#1e1e1e" stroke-width="0.18" text-anchor="middle">-</text>
<text x="402.8" y="675.7" font-size="9.4" stroke="#1e1e1e" stroke-width="0.18" text-anchor="middle">+</text>
<text x="419.8" y="675.4" font-size="9.4" stroke="#1e1e1e" stroke-width="0.18" text-anchor="middle">-</text>
<text x="437.1" y="675.4" font-size="9.4" stroke="#1e1e1e" stroke-width="0.18" text-anchor="middle">-</text>
<text x="322.2" y="688" font-size="9" stroke="#1e1e1e" stroke-width="0.18" textLength="53.4" lengthAdjust="spacingAndGlyphs">β<tspan font-size="6.48" dy="2">3</tspan><tspan dy="-2">-AR antag.</tspan></text>
<text x="385.9" y="687.4" font-size="9.4" stroke="#1e1e1e" stroke-width="0.18" text-anchor="middle">-</text>
<text x="402.8" y="687.4" font-size="9.4" stroke="#1e1e1e" stroke-width="0.18" text-anchor="middle">-</text>
<text x="419.8" y="687.7" font-size="9.4" stroke="#1e1e1e" stroke-width="0.18" text-anchor="middle">+</text>
<text x="437.1" y="687.4" font-size="9.4" stroke="#1e1e1e" stroke-width="0.18" text-anchor="middle">-</text>
<text x="326.5" y="699.7" font-size="9" stroke="#1e1e1e" stroke-width="0.18" textLength="49" lengthAdjust="spacingAndGlyphs">Chrn antag.</text>
<text x="385.9" y="699.1" font-size="9.4" stroke="#1e1e1e" stroke-width="0.18" text-anchor="middle">-</text>
<text x="402.8" y="699.1" font-size="9.4" stroke="#1e1e1e" stroke-width="0.18" text-anchor="middle">-</text>
<text x="419.8" y="699.1" font-size="9.4" stroke="#1e1e1e" stroke-width="0.18" text-anchor="middle">-</text>
<text x="437.1" y="699.4" font-size="9.4" stroke="#1e1e1e" stroke-width="0.18" text-anchor="middle">+</text>
<rect x="0.7" y="0.7" width="518.6" height="709.6" fill="none" stroke="#000" stroke-width="1.4"/>
</svg>
</body></html>
